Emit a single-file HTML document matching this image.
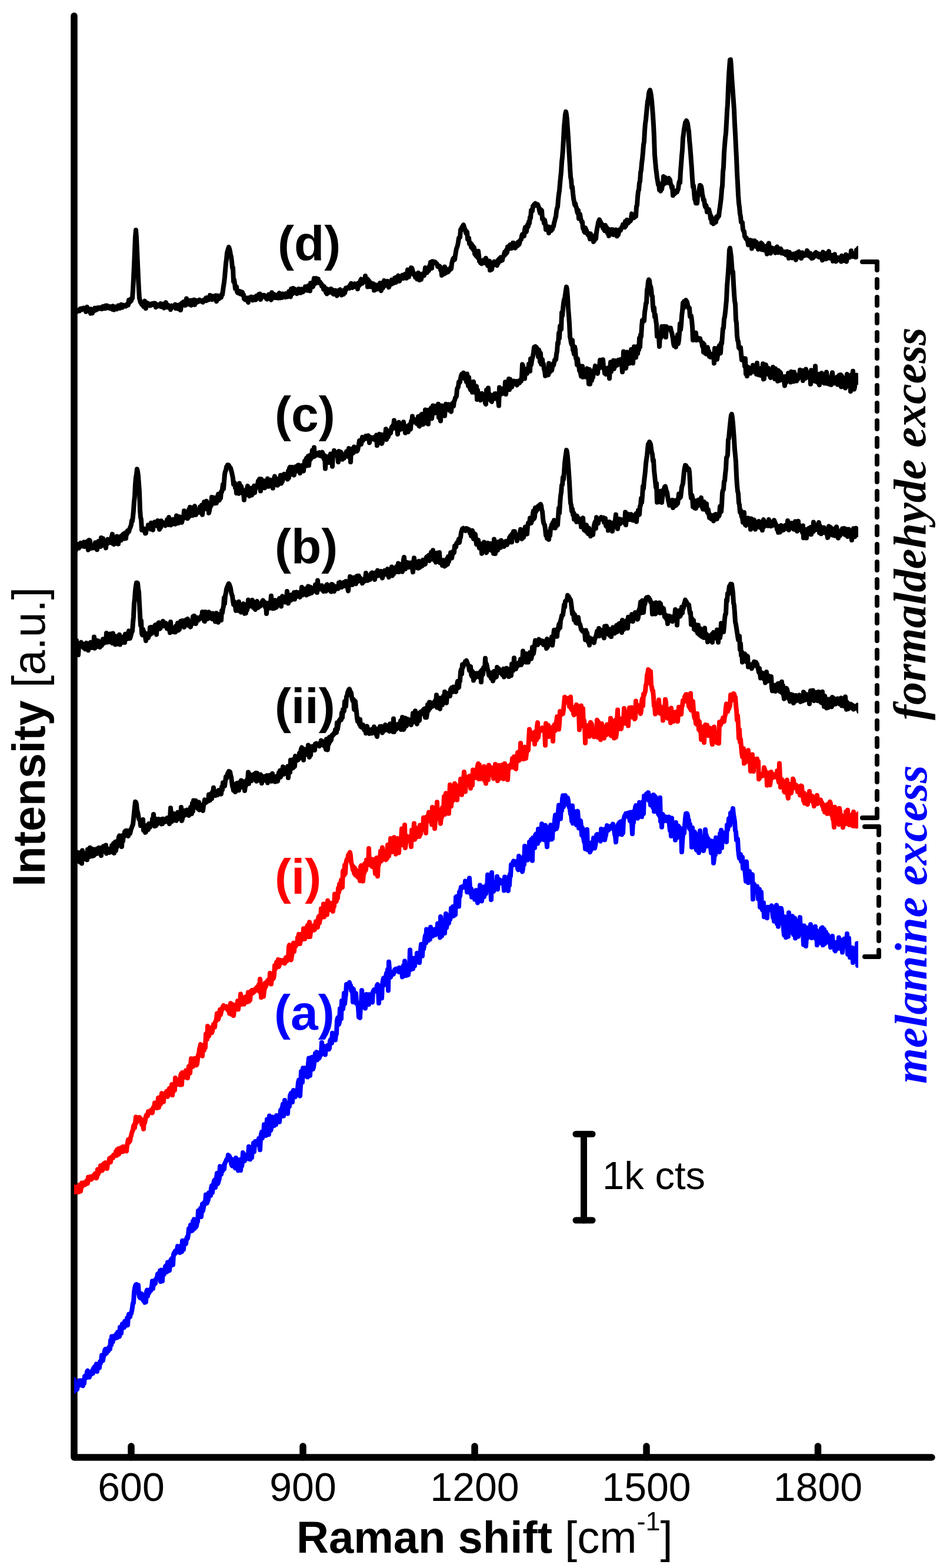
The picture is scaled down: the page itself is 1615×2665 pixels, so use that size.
<!DOCTYPE html>
<html><head><meta charset="utf-8"><style>html,body{margin:0;padding:0;background:#fff}svg{display:block}</style></head>
<body><svg xmlns="http://www.w3.org/2000/svg" width="1615" height="2665" viewBox="0 0 1615 2665">
<rect width="1615" height="2665" fill="#fff"/>
<defs><clipPath id="pa"><rect x="126" y="0" width="1333" height="2665"/></clipPath></defs>
<g fill="none" stroke="#000" stroke-width="11.5" stroke-linecap="round" stroke-linejoin="round">
<path d="M126 27 L126 2477 L1584 2477"/>
<path d="M223 2458 L223 2477"/><path d="M515 2458 L515 2477"/><path d="M807 2458 L807 2477"/><path d="M1099 2458 L1099 2477"/><path d="M1390.5 2458 L1390.5 2477"/>
</g>
<g clip-path="url(#pa)" fill="none" stroke-width="8" stroke-linecap="round" stroke-linejoin="round">
<path d="M124.0 529.8 125.0 530.8 126.0 529.7 127.0 526.1 128.0 530.9 129.0 529.7 130.0 527.4 131.0 529.7 132.0 529.0 133.0 528.6 134.0 527.7 135.0 528.4 136.0 525.0 137.0 525.7 138.0 524.4 139.0 526.5 140.0 525.1 141.0 524.4 142.0 523.6 143.0 525.1 144.0 526.1 145.0 525.9 146.0 529.8 147.0 529.6 148.0 521.7 149.0 523.8 150.0 527.6 151.0 527.1 152.0 528.4 153.0 528.4 154.0 532.6 155.0 525.4 156.0 527.0 157.0 532.2 158.0 529.1 159.0 529.0 160.0 526.4 161.0 523.7 162.0 527.5 163.0 527.0 164.0 523.7 165.0 524.5 166.0 525.4 167.0 523.0 168.0 524.4 169.0 524.5 170.0 524.1 171.0 522.6 172.0 524.8 173.0 525.2 174.0 523.6 175.0 520.9 176.0 524.1 177.0 521.2 178.0 524.1 179.0 519.7 180.0 524.0 181.0 522.0 182.0 519.5 183.0 521.7 184.0 522.8 185.0 523.6 186.0 521.1 187.0 521.1 188.0 524.2 189.0 522.9 190.0 524.5 191.0 525.7 192.0 520.2 193.0 524.4 194.0 526.5 195.0 523.0 196.0 521.7 197.0 525.1 198.0 523.9 199.0 525.2 200.0 522.2 201.0 519.5 202.0 522.4 203.0 521.3 204.0 523.8 205.0 522.2 206.0 517.7 207.0 518.3 208.0 522.7 209.0 521.9 210.0 518.5 211.0 519.7 212.0 520.3 213.0 520.0 214.0 520.5 215.0 518.6 216.0 517.2 217.0 516.2 218.0 518.6 219.0 510.0 220.0 514.0 221.0 513.3 222.0 508.7 223.0 511.3 224.0 506.8 225.0 506.9 226.0 492.9 227.0 472.6 228.0 451.2 229.0 426.8 230.0 402.3 231.0 391.1 232.0 403.9 233.0 426.5 234.0 449.3 235.0 471.5 236.0 491.9 237.0 506.9 238.0 510.5 239.0 514.3 240.0 514.3 241.0 517.6 242.0 514.3 243.0 518.7 244.0 521.0 245.0 513.9 246.0 511.7 247.0 519.4 248.0 524.1 249.0 515.5 250.0 514.9 251.0 519.4 252.0 515.9 253.0 516.8 254.0 517.1 255.0 519.3 256.0 517.0 257.0 518.7 258.0 517.6 259.0 515.9 260.0 517.2 261.0 515.7 262.0 518.1 263.0 515.4 264.0 515.6 265.0 522.1 266.0 518.4 267.0 518.6 268.0 520.1 269.0 517.9 270.0 518.4 271.0 520.1 272.0 519.8 273.0 516.2 274.0 521.3 275.0 517.7 276.0 516.5 277.0 517.0 278.0 518.3 279.0 523.5 280.0 516.4 281.0 519.9 282.0 514.1 283.0 519.8 284.0 522.2 285.0 519.5 286.0 518.7 287.0 521.1 288.0 522.5 289.0 522.6 290.0 526.1 291.0 521.7 292.0 519.7 293.0 521.1 294.0 521.3 295.0 521.9 296.0 521.7 297.0 522.3 298.0 517.6 299.0 524.2 300.0 520.5 301.0 518.8 302.0 523.4 303.0 524.9 304.0 522.3 305.0 520.9 306.0 517.5 307.0 527.0 308.0 521.3 309.0 515.4 310.0 515.9 311.0 517.8 312.0 513.0 313.0 517.1 314.0 514.9 315.0 519.0 316.0 517.8 317.0 507.6 318.0 514.6 319.0 509.9 320.0 517.0 321.0 514.3 322.0 515.2 323.0 510.7 324.0 518.4 325.0 518.8 326.0 510.4 327.0 514.2 328.0 511.3 329.0 513.0 330.0 509.6 331.0 518.1 332.0 510.3 333.0 512.1 334.0 514.3 335.0 511.1 336.0 512.2 337.0 511.3 338.0 512.4 339.0 509.5 340.0 511.5 341.0 512.0 342.0 511.5 343.0 512.4 344.0 511.1 345.0 513.7 346.0 510.4 347.0 510.6 348.0 508.8 349.0 508.8 350.0 506.5 351.0 511.1 352.0 506.1 353.0 506.8 354.0 509.5 355.0 509.3 356.0 506.7 357.0 501.8 358.0 508.4 359.0 507.8 360.0 503.0 361.0 509.2 362.0 505.0 363.0 503.8 364.0 507.3 365.0 506.5 366.0 507.6 367.0 502.4 368.0 512.2 369.0 505.3 370.0 502.5 371.0 508.6 372.0 505.7 373.0 507.4 374.0 505.3 375.0 505.8 376.0 505.6 377.0 500.3 378.0 501.0 379.0 493.6 380.0 486.4 381.0 480.2 382.0 471.1 383.0 459.4 384.0 448.0 385.0 440.6 386.0 429.9 387.0 426.1 388.0 422.7 389.0 420.0 390.0 422.8 391.0 427.0 392.0 433.1 393.0 436.5 394.0 444.6 395.0 455.2 396.0 454.7 397.0 478.4 398.0 475.1 399.0 481.6 400.0 490.6 401.0 490.3 402.0 487.0 403.0 495.7 404.0 497.6 405.0 494.7 406.0 495.9 407.0 498.8 408.0 495.1 409.0 499.7 410.0 499.6 411.0 497.8 412.0 496.7 413.0 501.5 414.0 500.8 415.0 507.8 416.0 506.4 417.0 509.4 418.0 508.3 419.0 509.3 420.0 506.3 421.0 510.7 422.0 513.9 423.0 507.3 424.0 506.1 425.0 507.1 426.0 505.7 427.0 504.7 428.0 506.9 429.0 505.3 430.0 510.4 431.0 505.8 432.0 506.6 433.0 508.4 434.0 504.4 435.0 509.6 436.0 503.0 437.0 502.4 438.0 503.6 439.0 504.4 440.0 500.3 441.0 504.6 442.0 499.5 443.0 509.1 444.0 504.6 445.0 502.8 446.0 502.1 447.0 503.7 448.0 504.3 449.0 501.7 450.0 502.1 451.0 504.4 452.0 503.3 453.0 507.9 454.0 508.5 455.0 505.0 456.0 506.4 457.0 500.6 458.0 506.8 459.0 504.6 460.0 506.2 461.0 509.7 462.0 497.3 463.0 505.4 464.0 501.0 465.0 506.3 466.0 500.1 467.0 502.7 468.0 504.8 469.0 506.1 470.0 504.2 471.0 501.4 472.0 502.1 473.0 506.6 474.0 503.7 475.0 498.1 476.0 506.2 477.0 504.7 478.0 506.1 479.0 502.0 480.0 505.7 481.0 499.4 482.0 504.5 483.0 500.8 484.0 504.3 485.0 505.1 486.0 499.1 487.0 501.0 488.0 500.9 489.0 504.3 490.0 502.3 491.0 495.5 492.0 500.4 493.0 500.6 494.0 504.3 495.0 491.0 496.0 494.0 497.0 499.5 498.0 490.0 499.0 490.2 500.0 495.7 501.0 497.4 502.0 491.8 503.0 495.8 504.0 494.4 505.0 499.1 506.0 494.0 507.0 497.3 508.0 491.0 509.0 493.4 510.0 493.7 511.0 497.8 512.0 495.9 513.0 491.3 514.0 496.1 515.0 496.2 516.0 493.1 517.0 492.4 518.0 492.5 519.0 487.2 520.0 493.3 521.0 493.2 522.0 488.9 523.0 493.7 524.0 485.8 525.0 487.7 526.0 487.0 527.0 494.5 528.0 481.3 529.0 487.8 530.0 488.2 531.0 485.4 532.0 487.2 533.0 478.6 534.0 473.0 535.0 482.4 536.0 474.7 537.0 476.8 538.0 473.1 539.0 480.4 540.0 479.6 541.0 474.3 542.0 480.6 543.0 478.9 544.0 479.3 545.0 481.4 546.0 482.0 547.0 486.4 548.0 486.8 549.0 485.8 550.0 491.5 551.0 486.8 552.0 490.8 553.0 492.3 554.0 496.9 555.0 490.8 556.0 499.5 557.0 494.7 558.0 493.9 559.0 492.5 560.0 497.1 561.0 495.2 562.0 491.1 563.0 491.0 564.0 493.0 565.0 492.6 566.0 498.9 567.0 499.9 568.0 498.1 569.0 496.3 570.0 493.5 571.0 495.2 572.0 498.2 573.0 502.6 574.0 498.3 575.0 494.0 576.0 495.1 577.0 493.3 578.0 492.2 579.0 494.3 580.0 495.7 581.0 501.5 582.0 494.8 583.0 499.1 584.0 500.0 585.0 493.3 586.0 498.2 587.0 494.3 588.0 489.6 589.0 491.5 590.0 490.1 591.0 488.7 592.0 488.4 593.0 489.3 594.0 489.9 595.0 484.8 596.0 487.6 597.0 481.8 598.0 487.8 599.0 488.7 600.0 486.6 601.0 486.6 602.0 487.2 603.0 482.2 604.0 483.2 605.0 485.4 606.0 486.6 607.0 483.9 608.0 491.1 609.0 481.2 610.0 484.6 611.0 485.0 612.0 479.5 613.0 476.4 614.0 474.5 615.0 478.8 616.0 481.7 617.0 478.2 618.0 477.5 619.0 475.3 620.0 478.6 621.0 469.1 622.0 478.0 623.0 477.9 624.0 473.7 625.0 487.4 626.0 475.6 627.0 477.7 628.0 478.2 629.0 487.3 630.0 480.8 631.0 487.0 632.0 487.3 633.0 486.8 634.0 481.8 635.0 484.9 636.0 493.6 637.0 483.4 638.0 485.4 639.0 488.0 640.0 491.6 641.0 489.5 642.0 491.1 643.0 484.3 644.0 491.1 645.0 489.3 646.0 481.1 647.0 491.8 648.0 494.0 649.0 482.6 650.0 485.2 651.0 489.7 652.0 479.1 653.0 477.0 654.0 479.2 655.0 481.5 656.0 481.2 657.0 485.2 658.0 483.6 659.0 477.9 660.0 484.0 661.0 488.3 662.0 485.4 663.0 484.2 664.0 480.2 665.0 483.1 666.0 475.6 667.0 481.2 668.0 477.7 669.0 481.5 670.0 478.7 671.0 472.6 672.0 476.6 673.0 480.0 674.0 471.2 675.0 472.8 676.0 471.7 677.0 468.6 678.0 477.0 679.0 477.8 680.0 475.5 681.0 473.0 682.0 471.4 683.0 471.9 684.0 467.8 685.0 473.0 686.0 473.0 687.0 472.0 688.0 466.2 689.0 467.8 690.0 466.4 691.0 472.8 692.0 466.4 693.0 458.4 694.0 465.9 695.0 470.6 696.0 465.7 697.0 465.9 698.0 462.5 699.0 455.1 700.0 455.5 701.0 457.8 702.0 462.4 703.0 465.0 704.0 467.5 705.0 465.1 706.0 471.1 707.0 467.9 708.0 467.5 709.0 474.1 710.0 469.0 711.0 463.8 712.0 470.9 713.0 476.0 714.0 465.7 715.0 475.3 716.0 474.8 717.0 469.2 718.0 466.7 719.0 467.6 720.0 464.5 721.0 468.4 722.0 463.3 723.0 454.9 724.0 456.1 725.0 460.3 726.0 463.4 727.0 456.8 728.0 455.5 729.0 460.0 730.0 452.4 731.0 450.5 732.0 445.7 733.0 448.0 734.0 456.0 735.0 444.3 736.0 447.4 737.0 444.6 738.0 446.3 739.0 446.7 740.0 445.6 741.0 446.7 742.0 447.6 743.0 448.8 744.0 453.2 745.0 453.4 746.0 452.0 747.0 452.2 748.0 453.1 749.0 458.9 750.0 456.7 751.0 468.0 752.0 465.3 753.0 458.4 754.0 458.3 755.0 465.8 756.0 453.4 757.0 458.7 758.0 463.8 759.0 457.3 760.0 458.9 761.0 459.2 762.0 462.2 763.0 459.4 764.0 459.2 765.0 458.5 766.0 454.8 767.0 456.9 768.0 448.4 769.0 443.9 770.0 440.7 771.0 438.8 772.0 439.4 773.0 441.3 774.0 434.4 775.0 427.9 776.0 422.4 777.0 420.3 778.0 416.7 779.0 411.9 780.0 404.6 781.0 403.4 782.0 403.2 783.0 390.5 784.0 391.6 785.0 386.4 786.0 386.2 787.0 383.6 788.0 382.3 789.0 385.6 790.0 389.8 791.0 390.2 792.0 395.9 793.0 397.1 794.0 394.0 795.0 406.7 796.0 406.0 797.0 404.4 798.0 414.3 799.0 414.3 800.0 413.1 801.0 419.8 802.0 415.2 803.0 422.2 804.0 418.1 805.0 424.9 806.0 420.7 807.0 431.4 808.0 428.6 809.0 434.4 810.0 428.1 811.0 431.1 812.0 437.6 813.0 426.8 814.0 434.5 815.0 443.7 816.0 443.3 817.0 446.8 818.0 443.7 819.0 448.1 820.0 444.4 821.0 442.7 822.0 442.0 823.0 446.5 824.0 446.8 825.0 446.8 826.0 438.7 827.0 442.6 828.0 448.1 829.0 451.4 830.0 448.8 831.0 448.2 832.0 443.6 833.0 459.3 834.0 448.5 835.0 458.5 836.0 457.8 837.0 452.7 838.0 448.8 839.0 450.3 840.0 444.7 841.0 448.8 842.0 447.0 843.0 448.2 844.0 449.1 845.0 451.2 846.0 443.1 847.0 447.6 848.0 440.5 849.0 439.4 850.0 439.6 851.0 437.4 852.0 443.4 853.0 442.1 854.0 442.1 855.0 436.3 856.0 436.1 857.0 431.8 858.0 428.4 859.0 432.8 860.0 430.9 861.0 424.8 862.0 429.3 863.0 419.5 864.0 423.4 865.0 420.3 866.0 419.2 867.0 416.0 868.0 422.1 869.0 420.0 870.0 421.9 871.0 418.0 872.0 412.9 873.0 416.1 874.0 413.2 875.0 418.9 876.0 421.5 877.0 418.4 878.0 415.0 879.0 415.8 880.0 417.7 881.0 411.3 882.0 415.8 883.0 414.2 884.0 409.5 885.0 407.5 886.0 407.0 887.0 400.9 888.0 398.3 889.0 401.7 890.0 397.7 891.0 401.2 892.0 390.3 893.0 386.2 894.0 394.5 895.0 393.2 896.0 385.9 897.0 381.8 898.0 385.1 899.0 377.1 900.0 379.7 901.0 369.4 902.0 370.6 903.0 357.5 904.0 357.9 905.0 358.6 906.0 350.2 907.0 351.2 908.0 347.6 909.0 346.9 910.0 345.8 911.0 347.9 912.0 347.2 913.0 349.5 914.0 347.4 915.0 350.0 916.0 352.1 917.0 358.1 918.0 362.1 919.0 355.9 920.0 356.8 921.0 357.8 922.0 372.3 923.0 371.3 924.0 373.4 925.0 379.4 926.0 373.9 927.0 379.4 928.0 390.1 929.0 388.9 930.0 388.7 931.0 385.2 932.0 391.3 933.0 396.0 934.0 385.8 935.0 390.5 936.0 389.1 937.0 392.0 938.0 390.9 939.0 389.6 940.0 384.9 941.0 384.9 942.0 378.8 943.0 375.8 944.0 371.0 945.0 368.3 946.0 358.8 947.0 353.8 948.0 351.5 949.0 339.0 950.0 330.0 951.0 324.0 952.0 311.8 953.0 301.4 954.0 291.9 955.0 275.5 956.0 267.0 957.0 253.4 958.0 234.9 959.0 215.3 960.0 205.2 961.0 194.2 962.0 189.8 963.0 195.1 964.0 203.9 965.0 219.6 966.0 233.6 967.0 252.0 968.0 266.8 969.0 284.6 970.0 301.1 971.0 305.7 972.0 319.0 973.0 317.6 974.0 328.6 975.0 337.4 976.0 342.6 977.0 348.0 978.0 345.6 979.0 350.9 980.0 352.6 981.0 359.0 982.0 362.3 983.0 357.5 984.0 371.5 985.0 363.1 986.0 364.3 987.0 370.5 988.0 374.4 989.0 377.5 990.0 377.1 991.0 388.0 992.0 385.9 993.0 393.3 994.0 394.7 995.0 387.2 996.0 389.9 997.0 391.3 998.0 397.1 999.0 397.7 1000.0 399.6 1001.0 396.8 1002.0 402.0 1003.0 406.2 1004.0 397.3 1005.0 402.0 1006.0 404.2 1007.0 403.5 1008.0 403.7 1009.0 410.9 1010.0 409.4 1011.0 407.7 1012.0 399.9 1013.0 405.5 1014.0 395.2 1015.0 388.9 1016.0 384.3 1017.0 378.1 1018.0 375.8 1019.0 373.4 1020.0 375.8 1021.0 377.0 1022.0 383.2 1023.0 381.0 1024.0 381.3 1025.0 387.5 1026.0 383.3 1027.0 390.2 1028.0 392.2 1029.0 383.1 1030.0 389.9 1031.0 385.9 1032.0 392.2 1033.0 396.5 1034.0 389.3 1035.0 400.9 1036.0 393.8 1037.0 390.8 1038.0 394.5 1039.0 397.7 1040.0 390.1 1041.0 395.0 1042.0 390.2 1043.0 399.1 1044.0 395.5 1045.0 393.5 1046.0 398.5 1047.0 390.4 1048.0 393.6 1049.0 401.4 1050.0 394.3 1051.0 399.1 1052.0 394.5 1053.0 390.6 1054.0 391.3 1055.0 391.5 1056.0 388.7 1057.0 386.2 1058.0 385.2 1059.0 381.6 1060.0 386.1 1061.0 386.1 1062.0 386.3 1063.0 376.2 1064.0 384.1 1065.0 380.0 1066.0 373.8 1067.0 377.8 1068.0 379.1 1069.0 376.8 1070.0 376.4 1071.0 376.1 1072.0 375.1 1073.0 371.1 1074.0 363.4 1075.0 367.4 1076.0 370.6 1077.0 367.0 1078.0 370.0 1079.0 369.2 1080.0 365.1 1081.0 367.7 1082.0 350.9 1083.0 348.8 1084.0 334.7 1085.0 325.2 1086.0 322.5 1087.0 310.8 1088.0 308.3 1089.0 293.3 1090.0 289.1 1091.0 277.0 1092.0 269.6 1093.0 259.1 1094.0 245.9 1095.0 241.2 1096.0 222.3 1097.0 209.8 1098.0 203.2 1099.0 192.0 1100.0 181.3 1101.0 172.0 1102.0 168.3 1103.0 158.8 1104.0 155.1 1105.0 153.1 1106.0 157.2 1107.0 162.6 1108.0 171.6 1109.0 183.5 1110.0 196.4 1111.0 212.7 1112.0 233.0 1113.0 263.7 1114.0 274.2 1115.0 285.7 1116.0 293.4 1117.0 302.0 1118.0 307.8 1119.0 313.8 1120.0 311.5 1121.0 323.0 1122.0 323.1 1123.0 324.7 1124.0 322.3 1125.0 321.6 1126.0 315.2 1127.0 314.6 1128.0 300.0 1129.0 302.9 1130.0 311.9 1131.0 301.8 1132.0 305.3 1133.0 309.2 1134.0 304.2 1135.0 310.5 1136.0 303.8 1137.0 302.9 1138.0 305.8 1139.0 305.7 1140.0 313.0 1141.0 314.3 1142.0 319.2 1143.0 317.3 1144.0 332.3 1145.0 325.3 1146.0 327.0 1147.0 329.3 1148.0 326.6 1149.0 324.4 1150.0 325.4 1151.0 326.3 1152.0 323.0 1153.0 321.1 1154.0 312.6 1155.0 308.3 1156.0 310.7 1157.0 290.8 1158.0 278.6 1159.0 264.7 1160.0 254.9 1161.0 234.7 1162.0 227.5 1163.0 219.2 1164.0 214.4 1165.0 208.4 1166.0 209.3 1167.0 205.1 1168.0 207.2 1169.0 210.3 1170.0 217.2 1171.0 223.3 1172.0 237.9 1173.0 247.9 1174.0 260.1 1175.0 273.6 1176.0 287.6 1177.0 304.0 1178.0 317.4 1179.0 315.5 1180.0 327.2 1181.0 338.1 1182.0 340.7 1183.0 345.1 1184.0 339.4 1185.0 345.4 1186.0 334.1 1187.0 331.4 1188.0 325.7 1189.0 319.8 1190.0 315.0 1191.0 315.2 1192.0 316.9 1193.0 321.9 1194.0 330.7 1195.0 335.0 1196.0 340.3 1197.0 339.7 1198.0 347.7 1199.0 351.6 1200.0 348.6 1201.0 351.4 1202.0 360.3 1203.0 357.1 1204.0 357.1 1205.0 355.9 1206.0 359.7 1207.0 363.3 1208.0 371.5 1209.0 367.4 1210.0 378.3 1211.0 371.2 1212.0 375.0 1213.0 380.4 1214.0 377.2 1215.0 374.9 1216.0 376.6 1217.0 377.4 1218.0 368.4 1219.0 371.5 1220.0 369.7 1221.0 366.1 1222.0 367.2 1223.0 358.2 1224.0 351.8 1225.0 344.0 1226.0 336.1 1227.0 322.0 1228.0 315.7 1229.0 292.5 1230.0 283.9 1231.0 260.0 1232.0 246.8 1233.0 234.5 1234.0 226.7 1235.0 208.8 1236.0 189.4 1237.0 175.8 1238.0 149.6 1239.0 129.0 1240.0 114.4 1241.0 101.6 1242.0 101.4 1243.0 113.2 1244.0 130.4 1245.0 144.6 1246.0 158.2 1247.0 172.4 1248.0 186.7 1249.0 210.7 1250.0 227.8 1251.0 249.1 1252.0 268.2 1253.0 293.1 1254.0 311.3 1255.0 331.3 1256.0 344.9 1257.0 352.2 1258.0 362.9 1259.0 368.0 1260.0 377.7 1261.0 377.9 1262.0 378.1 1263.0 390.0 1264.0 392.3 1265.0 393.3 1266.0 401.9 1267.0 402.9 1268.0 405.4 1269.0 404.5 1270.0 407.9 1271.0 409.6 1272.0 416.2 1273.0 409.0 1274.0 412.4 1275.0 414.5 1276.0 408.1 1277.0 409.1 1278.0 422.4 1279.0 409.2 1280.0 417.5 1281.0 412.8 1282.0 413.2 1283.0 409.2 1284.0 413.0 1285.0 418.9 1286.0 411.6 1287.0 418.5 1288.0 417.7 1289.0 423.7 1290.0 415.4 1291.0 421.6 1292.0 420.7 1293.0 417.1 1294.0 412.8 1295.0 424.2 1296.0 414.9 1297.0 418.5 1298.0 423.7 1299.0 425.0 1300.0 418.8 1301.0 422.0 1302.0 421.6 1303.0 426.8 1304.0 431.6 1305.0 416.9 1306.0 426.4 1307.0 413.6 1308.0 423.5 1309.0 419.8 1310.0 430.5 1311.0 424.3 1312.0 421.3 1313.0 422.2 1314.0 422.0 1315.0 424.7 1316.0 423.6 1317.0 426.5 1318.0 429.6 1319.0 426.9 1320.0 420.5 1321.0 419.4 1322.0 422.7 1323.0 429.3 1324.0 425.0 1325.0 424.3 1326.0 427.5 1327.0 422.7 1328.0 424.2 1329.0 430.3 1330.0 428.0 1331.0 427.9 1332.0 430.9 1333.0 428.2 1334.0 428.1 1335.0 429.2 1336.0 433.1 1337.0 431.5 1338.0 427.5 1339.0 430.8 1340.0 434.4 1341.0 438.8 1342.0 428.7 1343.0 434.0 1344.0 432.1 1345.0 436.0 1346.0 434.8 1347.0 438.4 1348.0 435.2 1349.0 431.5 1350.0 431.6 1351.0 434.8 1352.0 434.7 1353.0 441.6 1354.0 439.1 1355.0 429.4 1356.0 434.6 1357.0 428.9 1358.0 427.8 1359.0 435.9 1360.0 435.3 1361.0 429.9 1362.0 439.0 1363.0 430.1 1364.0 429.4 1365.0 435.6 1366.0 434.0 1367.0 432.6 1368.0 432.8 1369.0 433.7 1370.0 432.3 1371.0 432.0 1372.0 426.0 1373.0 427.8 1374.0 434.3 1375.0 429.7 1376.0 433.9 1377.0 436.2 1378.0 430.8 1379.0 433.0 1380.0 439.1 1381.0 434.5 1382.0 438.5 1383.0 437.5 1384.0 434.9 1385.0 432.1 1386.0 429.7 1387.0 429.0 1388.0 434.5 1389.0 434.6 1390.0 432.5 1391.0 436.1 1392.0 431.3 1393.0 437.2 1394.0 433.7 1395.0 433.5 1396.0 433.7 1397.0 433.4 1398.0 442.3 1399.0 428.5 1400.0 434.6 1401.0 438.3 1402.0 436.6 1403.0 433.3 1404.0 440.3 1405.0 430.9 1406.0 430.2 1407.0 436.7 1408.0 430.0 1409.0 427.2 1410.0 438.6 1411.0 438.5 1412.0 438.8 1413.0 435.0 1414.0 437.7 1415.0 434.2 1416.0 443.8 1417.0 441.0 1418.0 441.1 1419.0 432.3 1420.0 441.9 1421.0 444.3 1422.0 443.4 1423.0 442.0 1424.0 439.3 1425.0 438.1 1426.0 441.2 1427.0 440.4 1428.0 439.8 1429.0 437.8 1430.0 444.5 1431.0 434.7 1432.0 438.4 1433.0 436.4 1434.0 441.7 1435.0 442.9 1436.0 442.2 1437.0 440.3 1438.0 432.8 1439.0 444.5 1440.0 438.9 1441.0 436.5 1442.0 436.7 1443.0 435.2 1444.0 437.5 1445.0 436.8 1446.0 434.1 1447.0 426.3 1448.0 434.6 1449.0 435.9 1450.0 435.8 1451.0 433.1 1452.0 434.8 1453.0 436.4 1454.0 430.9 1455.0 437.1 1456.0 425.1 1457.0 427.0 1458.0 427.8 1459.0 422.1 1460.0 426.6 1461.0 434.2" stroke="#000"/>
<path d="M124.0 930.9 125.0 927.6 126.0 928.1 127.0 918.6 128.0 937.3 129.0 933.9 130.0 927.0 131.0 931.6 132.0 929.0 133.0 925.0 134.0 931.6 135.0 925.6 136.0 925.3 137.0 922.9 138.0 928.3 139.0 925.6 140.0 928.3 141.0 922.9 142.0 926.0 143.0 921.3 144.0 929.0 145.0 925.9 146.0 926.5 147.0 926.8 148.0 920.5 149.0 928.7 150.0 934.6 151.0 918.2 152.0 918.0 153.0 919.3 154.0 930.2 155.0 927.3 156.0 931.8 157.0 930.4 158.0 928.3 159.0 928.7 160.0 926.7 161.0 931.3 162.0 922.2 163.0 925.0 164.0 927.7 165.0 934.2 166.0 922.2 167.0 920.2 168.0 922.0 169.0 928.3 170.0 922.4 171.0 928.9 172.0 914.1 173.0 927.2 174.0 926.6 175.0 915.3 176.0 922.1 177.0 926.7 178.0 921.4 179.0 925.4 180.0 931.4 181.0 921.8 182.0 919.1 183.0 916.7 184.0 923.0 185.0 919.0 186.0 918.9 187.0 919.0 188.0 922.2 189.0 914.3 190.0 912.1 191.0 907.8 192.0 924.0 193.0 918.8 194.0 925.1 195.0 918.0 196.0 914.6 197.0 919.8 198.0 917.1 199.0 911.6 200.0 912.9 201.0 924.6 202.0 917.8 203.0 917.7 204.0 914.1 205.0 911.7 206.0 918.3 207.0 913.2 208.0 909.7 209.0 911.8 210.0 907.6 211.0 911.8 212.0 915.3 213.0 905.7 214.0 915.1 215.0 904.8 216.0 907.6 217.0 902.1 218.0 903.8 219.0 903.7 220.0 900.0 221.0 897.1 222.0 895.2 223.0 891.8 224.0 885.0 225.0 885.7 226.0 878.3 227.0 867.1 228.0 852.3 229.0 843.6 230.0 823.4 231.0 811.4 232.0 805.9 233.0 797.2 234.0 801.5 235.0 808.7 236.0 822.6 237.0 835.9 238.0 866.9 239.0 879.4 240.0 883.0 241.0 900.7 242.0 900.8 243.0 900.2 244.0 898.3 245.0 902.7 246.0 902.7 247.0 906.5 248.0 906.3 249.0 898.8 250.0 898.3 251.0 897.2 252.0 892.2 253.0 894.3 254.0 895.2 255.0 897.5 256.0 899.2 257.0 888.7 258.0 894.2 259.0 889.4 260.0 900.7 261.0 891.2 262.0 893.8 263.0 887.4 264.0 888.0 265.0 892.6 266.0 890.1 267.0 893.5 268.0 884.9 269.0 895.0 270.0 888.0 271.0 899.7 272.0 890.6 273.0 896.7 274.0 885.3 275.0 893.3 276.0 887.1 277.0 888.7 278.0 890.7 279.0 888.9 280.0 891.3 281.0 893.3 282.0 892.7 283.0 889.2 284.0 883.3 285.0 885.6 286.0 888.2 287.0 879.3 288.0 892.1 289.0 887.4 290.0 887.2 291.0 892.4 292.0 890.9 293.0 888.6 294.0 882.9 295.0 888.5 296.0 888.4 297.0 882.5 298.0 890.9 299.0 888.1 300.0 876.6 301.0 885.6 302.0 878.9 303.0 889.3 304.0 887.4 305.0 878.3 306.0 878.8 307.0 882.7 308.0 880.6 309.0 888.0 310.0 883.6 311.0 878.1 312.0 881.1 313.0 868.3 314.0 878.0 315.0 879.5 316.0 873.8 317.0 870.5 318.0 875.6 319.0 881.3 320.0 872.6 321.0 866.1 322.0 877.7 323.0 862.1 324.0 872.8 325.0 867.6 326.0 874.5 327.0 866.1 328.0 876.0 329.0 871.1 330.0 861.5 331.0 860.2 332.0 867.7 333.0 875.0 334.0 869.3 335.0 868.7 336.0 866.9 337.0 871.1 338.0 868.9 339.0 868.0 340.0 861.5 341.0 871.2 342.0 871.5 343.0 858.4 344.0 874.7 345.0 866.7 346.0 860.5 347.0 853.3 348.0 864.9 349.0 863.9 350.0 858.0 351.0 851.8 352.0 865.2 353.0 856.6 354.0 856.7 355.0 872.0 356.0 868.1 357.0 862.0 358.0 854.7 359.0 859.5 360.0 844.9 361.0 855.7 362.0 851.0 363.0 847.9 364.0 845.8 365.0 855.4 366.0 852.7 367.0 852.4 368.0 855.0 369.0 846.1 370.0 843.4 371.0 839.9 372.0 845.9 373.0 850.1 374.0 844.4 375.0 846.8 376.0 835.8 377.0 836.3 378.0 831.3 379.0 823.3 380.0 830.9 381.0 819.2 382.0 805.9 383.0 801.2 384.0 799.5 385.0 793.6 386.0 794.4 387.0 790.2 388.0 790.5 389.0 790.7 390.0 793.6 391.0 794.4 392.0 795.5 393.0 799.3 394.0 802.9 395.0 807.8 396.0 812.6 397.0 823.0 398.0 822.8 399.0 820.9 400.0 829.1 401.0 825.0 402.0 838.2 403.0 835.6 404.0 827.0 405.0 838.0 406.0 838.8 407.0 821.6 408.0 831.7 409.0 833.3 410.0 826.3 411.0 830.8 412.0 831.5 413.0 839.0 414.0 838.0 415.0 849.7 416.0 834.5 417.0 842.2 418.0 836.7 419.0 837.5 420.0 830.1 421.0 826.1 422.0 831.6 423.0 839.2 424.0 843.1 425.0 837.8 426.0 837.0 427.0 829.8 428.0 841.6 429.0 840.2 430.0 830.0 431.0 831.6 432.0 825.8 433.0 837.3 434.0 830.8 435.0 827.1 436.0 828.6 437.0 827.7 438.0 822.5 439.0 817.4 440.0 816.7 441.0 814.1 442.0 825.4 443.0 834.5 444.0 814.2 445.0 823.7 446.0 825.1 447.0 817.9 448.0 824.1 449.0 817.3 450.0 829.3 451.0 819.9 452.0 823.5 453.0 826.6 454.0 820.8 455.0 813.6 456.0 820.2 457.0 826.8 458.0 822.1 459.0 823.4 460.0 816.0 461.0 822.0 462.0 824.6 463.0 820.4 464.0 829.7 465.0 818.0 466.0 813.1 467.0 809.6 468.0 823.8 469.0 817.0 470.0 822.3 471.0 819.0 472.0 824.8 473.0 822.5 474.0 813.4 475.0 816.5 476.0 820.5 477.0 807.7 478.0 821.7 479.0 820.0 480.0 818.3 481.0 811.6 482.0 813.8 483.0 805.7 484.0 811.4 485.0 807.4 486.0 810.5 487.0 806.7 488.0 810.3 489.0 814.5 490.0 800.5 491.0 811.9 492.0 795.5 493.0 793.9 494.0 804.3 495.0 804.3 496.0 806.0 497.0 794.0 498.0 801.9 499.0 802.2 500.0 807.6 501.0 799.4 502.0 802.1 503.0 793.1 504.0 796.7 505.0 794.6 506.0 800.3 507.0 790.4 508.0 790.7 509.0 797.9 510.0 804.2 511.0 796.1 512.0 795.3 513.0 791.3 514.0 798.6 515.0 794.9 516.0 800.6 517.0 791.9 518.0 783.8 519.0 784.7 520.0 781.3 521.0 778.6 522.0 791.4 523.0 787.7 524.0 775.2 525.0 791.0 526.0 781.5 527.0 774.0 528.0 780.7 529.0 777.4 530.0 772.6 531.0 765.2 532.0 775.5 533.0 776.2 534.0 760.6 535.0 775.5 536.0 774.6 537.0 771.1 538.0 772.0 539.0 771.2 540.0 770.3 541.0 771.1 542.0 773.9 543.0 769.1 544.0 774.0 545.0 774.7 546.0 771.1 547.0 773.2 548.0 768.6 549.0 772.5 550.0 778.2 551.0 780.6 552.0 774.1 553.0 796.5 554.0 776.2 555.0 780.1 556.0 778.0 557.0 776.8 558.0 786.3 559.0 775.8 560.0 785.9 561.0 784.5 562.0 771.6 563.0 783.3 564.0 773.4 565.0 792.7 566.0 774.6 567.0 771.4 568.0 765.8 569.0 769.3 570.0 773.4 571.0 771.0 572.0 769.7 573.0 772.8 574.0 775.6 575.0 785.2 576.0 766.9 577.0 773.6 578.0 771.3 579.0 768.0 580.0 769.4 581.0 771.5 582.0 780.8 583.0 775.1 584.0 772.7 585.0 778.8 586.0 776.2 587.0 772.6 588.0 775.4 589.0 767.5 590.0 775.2 591.0 773.5 592.0 767.6 593.0 762.1 594.0 777.6 595.0 768.6 596.0 785.2 597.0 763.1 598.0 771.5 599.0 763.3 600.0 766.8 601.0 769.7 602.0 759.4 603.0 762.9 604.0 763.8 605.0 762.9 606.0 765.0 607.0 766.8 608.0 764.7 609.0 760.2 610.0 755.2 611.0 749.0 612.0 749.8 613.0 749.4 614.0 755.1 615.0 747.7 616.0 743.0 617.0 748.8 618.0 744.2 619.0 744.0 620.0 744.4 621.0 745.4 622.0 741.1 623.0 742.6 624.0 745.2 625.0 743.3 626.0 740.4 627.0 741.5 628.0 752.4 629.0 742.6 630.0 747.2 631.0 746.7 632.0 744.0 633.0 745.4 634.0 744.0 635.0 743.8 636.0 743.1 637.0 747.3 638.0 743.9 639.0 743.0 640.0 739.5 641.0 757.2 642.0 751.0 643.0 745.9 644.0 742.7 645.0 737.8 646.0 749.1 647.0 749.2 648.0 738.7 649.0 754.1 650.0 751.1 651.0 739.6 652.0 741.1 653.0 740.7 654.0 743.0 655.0 739.8 656.0 729.2 657.0 747.1 658.0 738.7 659.0 743.4 660.0 742.4 661.0 732.5 662.0 735.1 663.0 736.7 664.0 736.1 665.0 729.5 666.0 725.9 667.0 729.2 668.0 723.3 669.0 724.2 670.0 714.5 671.0 727.2 672.0 719.9 673.0 722.6 674.0 725.7 675.0 728.0 676.0 737.9 677.0 727.6 678.0 717.8 679.0 727.6 680.0 723.4 681.0 729.9 682.0 723.4 683.0 723.5 684.0 725.0 685.0 724.5 686.0 717.2 687.0 724.4 688.0 728.5 689.0 735.8 690.0 725.9 691.0 724.7 692.0 729.8 693.0 728.5 694.0 734.0 695.0 726.6 696.0 721.7 697.0 729.1 698.0 729.4 699.0 716.0 700.0 719.3 701.0 707.4 702.0 715.3 703.0 711.8 704.0 715.8 705.0 713.9 706.0 715.8 707.0 716.0 708.0 719.6 709.0 717.8 710.0 712.7 711.0 708.0 712.0 723.5 713.0 724.4 714.0 712.5 715.0 718.4 716.0 704.9 717.0 704.0 718.0 711.3 719.0 721.3 720.0 704.6 721.0 705.0 722.0 719.3 723.0 696.4 724.0 711.4 725.0 709.5 726.0 704.3 727.0 706.1 728.0 720.8 729.0 696.7 730.0 701.3 731.0 701.3 732.0 698.0 733.0 693.4 734.0 711.4 735.0 702.4 736.0 689.6 737.0 695.8 738.0 702.4 739.0 702.1 740.0 690.2 741.0 698.4 742.0 700.4 743.0 701.0 744.0 700.8 745.0 686.7 746.0 709.6 747.0 699.2 748.0 709.1 749.0 715.5 750.0 696.4 751.0 689.5 752.0 702.5 753.0 695.7 754.0 693.8 755.0 689.9 756.0 706.7 757.0 693.1 758.0 686.8 759.0 692.5 760.0 687.8 761.0 695.7 762.0 691.7 763.0 687.3 764.0 697.3 765.0 688.9 766.0 697.0 767.0 699.7 768.0 688.7 769.0 685.6 770.0 688.7 771.0 690.3 772.0 682.0 773.0 680.1 774.0 676.1 775.0 675.0 776.0 673.7 777.0 661.5 778.0 658.8 779.0 657.8 780.0 649.3 781.0 650.7 782.0 649.0 783.0 643.0 784.0 638.4 785.0 635.9 786.0 638.1 787.0 636.4 788.0 633.7 789.0 634.6 790.0 642.9 791.0 644.7 792.0 640.6 793.0 649.1 794.0 635.5 795.0 648.1 796.0 655.7 797.0 641.3 798.0 649.2 799.0 659.8 800.0 662.5 801.0 652.1 802.0 658.1 803.0 666.7 804.0 654.5 805.0 648.8 806.0 657.4 807.0 655.8 808.0 667.2 809.0 661.1 810.0 656.6 811.0 679.0 812.0 662.9 813.0 671.4 814.0 675.1 815.0 678.0 816.0 676.1 817.0 680.2 818.0 677.0 819.0 668.7 820.0 676.3 821.0 676.4 822.0 676.4 823.0 678.3 824.0 673.3 825.0 685.5 826.0 686.9 827.0 662.7 828.0 676.6 829.0 671.8 830.0 659.5 831.0 678.4 832.0 671.7 833.0 673.0 834.0 671.0 835.0 681.9 836.0 682.7 837.0 676.4 838.0 678.9 839.0 673.6 840.0 675.1 841.0 669.3 842.0 674.0 843.0 669.1 844.0 675.8 845.0 678.5 846.0 674.9 847.0 680.2 848.0 689.5 849.0 658.6 850.0 671.7 851.0 667.4 852.0 667.4 853.0 660.9 854.0 669.1 855.0 666.3 856.0 663.0 857.0 664.4 858.0 661.3 859.0 649.2 860.0 670.0 861.0 660.3 862.0 655.3 863.0 662.3 864.0 654.9 865.0 644.0 866.0 662.2 867.0 644.5 868.0 652.5 869.0 653.3 870.0 657.9 871.0 654.8 872.0 649.9 873.0 647.6 874.0 647.7 875.0 649.9 876.0 651.3 877.0 650.1 878.0 648.3 879.0 654.6 880.0 649.2 881.0 648.1 882.0 647.4 883.0 651.0 884.0 646.6 885.0 648.5 886.0 647.7 887.0 640.0 888.0 619.3 889.0 621.4 890.0 632.0 891.0 629.8 892.0 643.4 893.0 628.9 894.0 627.7 895.0 634.3 896.0 634.7 897.0 625.9 898.0 629.8 899.0 618.7 900.0 618.9 901.0 630.7 902.0 609.8 903.0 619.9 904.0 613.1 905.0 608.7 906.0 604.7 907.0 598.8 908.0 590.2 909.0 589.4 910.0 589.0 911.0 592.1 912.0 590.5 913.0 592.8 914.0 596.0 915.0 606.4 916.0 594.5 917.0 598.1 918.0 614.8 919.0 600.6 920.0 619.1 921.0 616.2 922.0 611.0 923.0 620.4 924.0 618.5 925.0 627.7 926.0 630.4 927.0 638.9 928.0 630.1 929.0 631.4 930.0 627.3 931.0 630.7 932.0 637.2 933.0 617.4 934.0 633.3 935.0 624.6 936.0 627.3 937.0 627.6 938.0 629.6 939.0 624.1 940.0 618.5 941.0 621.0 942.0 616.5 943.0 611.9 944.0 610.8 945.0 611.0 946.0 601.7 947.0 597.0 948.0 582.7 949.0 584.3 950.0 565.9 951.0 574.7 952.0 554.3 953.0 558.0 954.0 560.0 955.0 531.3 956.0 536.7 957.0 525.3 958.0 515.1 959.0 509.3 960.0 507.3 961.0 500.7 962.0 493.0 963.0 487.6 964.0 492.8 965.0 505.3 966.0 524.0 967.0 536.4 968.0 550.7 969.0 572.5 970.0 576.9 971.0 583.0 972.0 585.9 973.0 578.2 974.0 594.9 975.0 596.3 976.0 601.7 977.0 589.6 978.0 594.3 979.0 608.7 980.0 608.6 981.0 619.8 982.0 610.0 983.0 621.5 984.0 620.0 985.0 629.9 986.0 627.1 987.0 635.0 988.0 639.5 989.0 637.8 990.0 622.5 991.0 641.1 992.0 638.5 993.0 629.4 994.0 630.8 995.0 636.9 996.0 640.7 997.0 634.1 998.0 626.4 999.0 638.7 1000.0 637.9 1001.0 652.6 1002.0 628.1 1003.0 652.8 1004.0 647.5 1005.0 637.9 1006.0 646.5 1007.0 636.1 1008.0 641.5 1009.0 630.1 1010.0 634.8 1011.0 626.7 1012.0 621.9 1013.0 629.1 1014.0 625.1 1015.0 631.7 1016.0 634.9 1017.0 624.3 1018.0 624.7 1019.0 624.8 1020.0 612.1 1021.0 624.8 1022.0 623.2 1023.0 623.1 1024.0 616.6 1025.0 611.3 1026.0 623.0 1027.0 627.2 1028.0 634.4 1029.0 633.5 1030.0 636.0 1031.0 629.2 1032.0 634.5 1033.0 625.6 1034.0 630.9 1035.0 632.4 1036.0 643.2 1037.0 626.4 1038.0 615.5 1039.0 631.8 1040.0 616.6 1041.0 620.3 1042.0 617.8 1043.0 612.8 1044.0 626.8 1045.0 621.4 1046.0 613.1 1047.0 617.5 1048.0 614.2 1049.0 621.0 1050.0 614.5 1051.0 612.0 1052.0 612.8 1053.0 614.1 1054.0 618.9 1055.0 611.0 1056.0 616.4 1057.0 619.9 1058.0 632.3 1059.0 622.6 1060.0 597.4 1061.0 613.6 1062.0 614.2 1063.0 618.4 1064.0 625.9 1065.0 619.6 1066.0 598.5 1067.0 614.5 1068.0 612.0 1069.0 612.7 1070.0 617.6 1071.0 600.2 1072.0 613.4 1073.0 594.1 1074.0 604.3 1075.0 605.5 1076.0 617.2 1077.0 596.7 1078.0 589.2 1079.0 604.0 1080.0 594.1 1081.0 607.6 1082.0 591.4 1083.0 588.8 1084.0 601.1 1085.0 591.6 1086.0 594.7 1087.0 574.5 1088.0 589.5 1089.0 568.9 1090.0 572.1 1091.0 554.1 1092.0 544.6 1093.0 546.9 1094.0 543.2 1095.0 545.6 1096.0 530.4 1097.0 524.9 1098.0 515.5 1099.0 514.8 1100.0 492.8 1101.0 488.6 1102.0 478.3 1103.0 475.4 1104.0 476.7 1105.0 485.5 1106.0 486.5 1107.0 491.4 1108.0 502.6 1109.0 503.5 1110.0 521.2 1111.0 528.4 1112.0 522.9 1113.0 538.6 1114.0 534.6 1115.0 544.4 1116.0 551.5 1117.0 571.7 1118.0 567.2 1119.0 568.2 1120.0 573.1 1121.0 588.9 1122.0 569.1 1123.0 574.9 1124.0 572.3 1125.0 555.0 1126.0 564.5 1127.0 570.9 1128.0 563.4 1129.0 554.7 1130.0 564.9 1131.0 563.4 1132.0 573.1 1133.0 554.9 1134.0 557.3 1135.0 559.2 1136.0 558.5 1137.0 558.9 1138.0 558.5 1139.0 557.5 1140.0 557.5 1141.0 563.0 1142.0 565.2 1143.0 570.1 1144.0 575.8 1145.0 584.1 1146.0 587.7 1147.0 576.1 1148.0 585.8 1149.0 589.7 1150.0 584.5 1151.0 574.0 1152.0 568.9 1153.0 584.0 1154.0 578.4 1155.0 566.7 1156.0 550.3 1157.0 560.2 1158.0 552.0 1159.0 536.4 1160.0 528.7 1161.0 515.1 1162.0 523.6 1163.0 512.2 1164.0 514.4 1165.0 512.1 1166.0 510.1 1167.0 513.6 1168.0 513.0 1169.0 518.4 1170.0 523.0 1171.0 524.1 1172.0 523.4 1173.0 537.6 1174.0 536.2 1175.0 536.9 1176.0 544.3 1177.0 554.9 1178.0 578.1 1179.0 571.2 1180.0 574.1 1181.0 570.0 1182.0 569.0 1183.0 565.5 1184.0 578.3 1185.0 577.3 1186.0 574.4 1187.0 574.8 1188.0 576.7 1189.0 576.4 1190.0 575.4 1191.0 579.2 1192.0 580.6 1193.0 582.0 1194.0 588.4 1195.0 583.0 1196.0 598.6 1197.0 585.3 1198.0 597.9 1199.0 600.8 1200.0 596.5 1201.0 601.8 1202.0 591.5 1203.0 590.5 1204.0 599.7 1205.0 596.7 1206.0 605.9 1207.0 602.6 1208.0 606.9 1209.0 605.2 1210.0 604.7 1211.0 604.1 1212.0 601.2 1213.0 600.6 1214.0 617.4 1215.0 591.9 1216.0 602.1 1217.0 609.6 1218.0 605.0 1219.0 610.8 1220.0 604.1 1221.0 590.9 1222.0 595.9 1223.0 587.2 1224.0 600.6 1225.0 600.0 1226.0 582.8 1227.0 584.1 1228.0 571.6 1229.0 558.1 1230.0 557.7 1231.0 542.3 1232.0 538.4 1233.0 530.6 1234.0 520.1 1235.0 509.7 1236.0 486.1 1237.0 474.5 1238.0 461.1 1239.0 445.5 1240.0 424.8 1241.0 421.6 1242.0 429.0 1243.0 436.6 1244.0 450.6 1245.0 463.5 1246.0 461.9 1247.0 482.3 1248.0 498.6 1249.0 512.0 1250.0 516.6 1251.0 543.0 1252.0 549.0 1253.0 570.3 1254.0 578.4 1255.0 580.4 1256.0 590.9 1257.0 589.5 1258.0 593.1 1259.0 590.4 1260.0 602.2 1261.0 611.7 1262.0 609.4 1263.0 610.8 1264.0 608.9 1265.0 611.8 1266.0 622.5 1267.0 609.4 1268.0 635.3 1269.0 622.7 1270.0 639.3 1271.0 633.9 1272.0 624.2 1273.0 632.8 1274.0 630.1 1275.0 631.8 1276.0 634.4 1277.0 625.6 1278.0 625.3 1279.0 626.9 1280.0 620.7 1281.0 628.3 1282.0 631.8 1283.0 632.1 1284.0 631.8 1285.0 628.0 1286.0 636.1 1287.0 617.0 1288.0 628.3 1289.0 628.9 1290.0 637.3 1291.0 635.9 1292.0 636.9 1293.0 631.8 1294.0 638.3 1295.0 625.3 1296.0 632.8 1297.0 618.3 1298.0 644.5 1299.0 644.0 1300.0 629.5 1301.0 628.1 1302.0 620.0 1303.0 624.2 1304.0 635.8 1305.0 634.3 1306.0 625.7 1307.0 632.7 1308.0 632.0 1309.0 640.0 1310.0 642.0 1311.0 636.0 1312.0 638.6 1313.0 638.0 1314.0 624.1 1315.0 639.7 1316.0 638.2 1317.0 643.9 1318.0 626.5 1319.0 644.3 1320.0 634.9 1321.0 641.2 1322.0 647.7 1323.0 629.6 1324.0 630.9 1325.0 646.7 1326.0 632.2 1327.0 633.6 1328.0 644.3 1329.0 638.9 1330.0 645.7 1331.0 642.5 1332.0 640.3 1333.0 647.3 1334.0 655.5 1335.0 640.0 1336.0 650.7 1337.0 648.4 1338.0 641.4 1339.0 643.8 1340.0 634.3 1341.0 636.5 1342.0 642.6 1343.0 640.3 1344.0 649.5 1345.0 631.8 1346.0 638.7 1347.0 636.3 1348.0 639.6 1349.0 648.6 1350.0 632.5 1351.0 646.5 1352.0 636.7 1353.0 638.5 1354.0 647.5 1355.0 638.8 1356.0 645.2 1357.0 641.5 1358.0 639.5 1359.0 638.2 1360.0 628.8 1361.0 635.4 1362.0 641.6 1363.0 641.7 1364.0 630.1 1365.0 646.9 1366.0 643.9 1367.0 631.0 1368.0 632.6 1369.0 643.0 1370.0 627.4 1371.0 634.2 1372.0 638.8 1373.0 638.2 1374.0 638.6 1375.0 641.6 1376.0 633.4 1377.0 635.5 1378.0 652.8 1379.0 629.3 1380.0 635.9 1381.0 639.8 1382.0 634.8 1383.0 647.6 1384.0 640.0 1385.0 644.9 1386.0 622.2 1387.0 648.3 1388.0 648.3 1389.0 635.6 1390.0 649.9 1391.0 643.1 1392.0 647.9 1393.0 654.2 1394.0 642.8 1395.0 635.4 1396.0 642.5 1397.0 634.1 1398.0 637.5 1399.0 637.9 1400.0 638.4 1401.0 651.3 1402.0 649.2 1403.0 637.5 1404.0 651.4 1405.0 632.4 1406.0 639.4 1407.0 643.0 1408.0 652.2 1409.0 649.1 1410.0 647.4 1411.0 653.2 1412.0 649.3 1413.0 653.9 1414.0 639.3 1415.0 633.3 1416.0 642.0 1417.0 650.7 1418.0 646.9 1419.0 651.3 1420.0 650.2 1421.0 649.1 1422.0 651.3 1423.0 641.1 1424.0 653.7 1425.0 639.7 1426.0 646.0 1427.0 637.4 1428.0 650.8 1429.0 637.0 1430.0 657.4 1431.0 639.0 1432.0 650.2 1433.0 647.7 1434.0 642.9 1435.0 657.6 1436.0 646.3 1437.0 659.4 1438.0 642.5 1439.0 644.1 1440.0 636.0 1441.0 653.3 1442.0 655.8 1443.0 651.0 1444.0 648.3 1445.0 643.1 1446.0 665.2 1447.0 654.1 1448.0 636.4 1449.0 646.7 1450.0 630.8 1451.0 659.1 1452.0 661.6 1453.0 657.9 1454.0 647.3 1455.0 643.3 1456.0 637.5 1457.0 650.3 1458.0 641.3 1459.0 643.4 1460.0 641.2 1461.0 643.5" stroke="#000"/>
<path d="M124.0 1109.2 125.0 1086.2 126.0 1101.1 127.0 1096.0 128.0 1096.5 129.0 1097.6 130.0 1088.4 131.0 1097.2 132.0 1093.9 133.0 1113.1 134.0 1099.0 135.0 1095.9 136.0 1096.1 137.0 1093.9 138.0 1091.7 139.0 1094.8 140.0 1098.9 141.0 1095.0 142.0 1100.8 143.0 1094.8 144.0 1095.7 145.0 1103.2 146.0 1098.1 147.0 1092.9 148.0 1094.5 149.0 1098.2 150.0 1105.3 151.0 1094.4 152.0 1094.6 153.0 1101.0 154.0 1091.7 155.0 1094.8 156.0 1100.8 157.0 1099.4 158.0 1097.1 159.0 1100.0 160.0 1082.6 161.0 1101.8 162.0 1091.7 163.0 1087.9 164.0 1097.3 165.0 1099.0 166.0 1092.8 167.0 1089.2 168.0 1094.2 169.0 1093.3 170.0 1100.0 171.0 1096.2 172.0 1093.0 173.0 1097.2 174.0 1090.2 175.0 1086.3 176.0 1093.4 177.0 1093.0 178.0 1088.6 179.0 1085.4 180.0 1090.1 181.0 1076.1 182.0 1091.7 183.0 1090.4 184.0 1079.5 185.0 1087.9 186.0 1082.6 187.0 1091.2 188.0 1077.2 189.0 1082.8 190.0 1090.9 191.0 1093.2 192.0 1076.6 193.0 1084.9 194.0 1089.0 195.0 1084.4 196.0 1095.4 197.0 1081.4 198.0 1089.2 199.0 1082.2 200.0 1094.4 201.0 1087.3 202.0 1085.5 203.0 1078.7 204.0 1095.6 205.0 1090.8 206.0 1090.6 207.0 1092.3 208.0 1088.2 209.0 1083.0 210.0 1081.9 211.0 1081.6 212.0 1092.1 213.0 1077.7 214.0 1081.6 215.0 1082.5 216.0 1084.6 217.0 1085.6 218.0 1075.7 219.0 1072.3 220.0 1080.0 221.0 1085.1 222.0 1081.9 223.0 1078.0 224.0 1073.6 225.0 1072.9 226.0 1058.7 227.0 1048.3 228.0 1026.8 229.0 1017.1 230.0 1003.5 231.0 995.8 232.0 990.4 233.0 990.4 234.0 991.2 235.0 1000.3 236.0 1006.3 237.0 1025.8 238.0 1045.0 239.0 1062.9 240.0 1054.9 241.0 1076.6 242.0 1079.2 243.0 1069.5 244.0 1072.7 245.0 1074.8 246.0 1079.5 247.0 1082.4 248.0 1089.0 249.0 1077.1 250.0 1081.2 251.0 1077.1 252.0 1084.1 253.0 1077.9 254.0 1080.0 255.0 1066.6 256.0 1070.0 257.0 1066.0 258.0 1076.8 259.0 1072.0 260.0 1066.8 261.0 1065.7 262.0 1070.0 263.0 1063.7 264.0 1062.1 265.0 1068.8 266.0 1078.4 267.0 1064.5 268.0 1062.6 269.0 1059.3 270.0 1058.2 271.0 1067.2 272.0 1068.6 273.0 1064.1 274.0 1065.5 275.0 1064.3 276.0 1064.2 277.0 1055.8 278.0 1061.0 279.0 1063.8 280.0 1059.3 281.0 1060.8 282.0 1059.2 283.0 1062.0 284.0 1068.3 285.0 1062.5 286.0 1064.3 287.0 1069.8 288.0 1069.5 289.0 1075.4 290.0 1057.0 291.0 1072.2 292.0 1065.9 293.0 1069.2 294.0 1072.8 295.0 1073.8 296.0 1073.2 297.0 1068.0 298.0 1074.4 299.0 1063.9 300.0 1063.4 301.0 1066.9 302.0 1059.0 303.0 1071.5 304.0 1064.8 305.0 1069.7 306.0 1058.1 307.0 1056.0 308.0 1058.7 309.0 1061.6 310.0 1055.0 311.0 1059.8 312.0 1057.8 313.0 1066.0 314.0 1054.6 315.0 1063.1 316.0 1054.7 317.0 1053.1 318.0 1054.3 319.0 1051.9 320.0 1058.6 321.0 1063.1 322.0 1058.7 323.0 1060.9 324.0 1065.7 325.0 1058.6 326.0 1058.0 327.0 1055.3 328.0 1048.2 329.0 1059.7 330.0 1046.7 331.0 1058.3 332.0 1054.6 333.0 1060.0 334.0 1053.7 335.0 1049.6 336.0 1055.1 337.0 1050.2 338.0 1051.8 339.0 1052.5 340.0 1051.3 341.0 1050.6 342.0 1047.1 343.0 1050.0 344.0 1039.9 345.0 1049.6 346.0 1044.1 347.0 1055.5 348.0 1056.1 349.0 1039.9 350.0 1050.2 351.0 1048.8 352.0 1044.1 353.0 1051.9 354.0 1046.9 355.0 1040.3 356.0 1047.7 357.0 1048.2 358.0 1049.4 359.0 1042.6 360.0 1051.7 361.0 1052.2 362.0 1042.6 363.0 1044.9 364.0 1047.6 365.0 1045.0 366.0 1056.4 367.0 1048.5 368.0 1042.1 369.0 1043.0 370.0 1046.3 371.0 1057.7 372.0 1044.9 373.0 1046.0 374.0 1047.4 375.0 1043.9 376.0 1054.1 377.0 1037.9 378.0 1041.7 379.0 1034.5 380.0 1030.8 381.0 1016.1 382.0 1026.0 383.0 1011.9 384.0 1008.1 385.0 1001.3 386.0 998.3 387.0 996.3 388.0 993.6 389.0 991.9 390.0 993.9 391.0 996.6 392.0 1000.0 393.0 1006.4 394.0 1010.5 395.0 1012.8 396.0 1021.4 397.0 1027.4 398.0 1024.3 399.0 1023.3 400.0 1030.4 401.0 1037.8 402.0 1028.4 403.0 1029.9 404.0 1030.3 405.0 1037.6 406.0 1022.7 407.0 1034.1 408.0 1038.6 409.0 1028.9 410.0 1040.6 411.0 1036.1 412.0 1030.8 413.0 1034.7 414.0 1026.1 415.0 1031.0 416.0 1042.8 417.0 1028.9 418.0 1042.2 419.0 1032.1 420.0 1036.9 421.0 1031.5 422.0 1019.5 423.0 1027.3 424.0 1030.5 425.0 1023.3 426.0 1022.0 427.0 1030.3 428.0 1025.2 429.0 1019.9 430.0 1025.0 431.0 1032.7 432.0 1026.0 433.0 1033.1 434.0 1036.0 435.0 1028.6 436.0 1022.8 437.0 1021.9 438.0 1028.3 439.0 1032.8 440.0 1029.7 441.0 1031.1 442.0 1026.2 443.0 1029.9 444.0 1026.0 445.0 1026.8 446.0 1021.9 447.0 1020.5 448.0 1026.0 449.0 1022.9 450.0 1023.6 451.0 1031.8 452.0 1027.9 453.0 1043.0 454.0 1033.0 455.0 1025.2 456.0 1032.3 457.0 1030.1 458.0 1024.8 459.0 1033.6 460.0 1024.0 461.0 1012.7 462.0 1031.4 463.0 1024.1 464.0 1034.3 465.0 1023.4 466.0 1020.4 467.0 1033.7 468.0 1020.3 469.0 1026.3 470.0 1032.0 471.0 1024.7 472.0 1023.0 473.0 1023.2 474.0 1026.1 475.0 1017.0 476.0 1023.3 477.0 1022.4 478.0 1030.6 479.0 1016.7 480.0 1013.4 481.0 1021.4 482.0 1015.7 483.0 1019.1 484.0 1018.4 485.0 1023.5 486.0 1014.4 487.0 1017.2 488.0 1004.9 489.0 1013.2 490.0 1025.4 491.0 1014.3 492.0 1014.2 493.0 1011.6 494.0 1020.6 495.0 1018.6 496.0 1011.0 497.0 1018.6 498.0 1014.4 499.0 1015.0 500.0 1007.0 501.0 1018.5 502.0 1011.6 503.0 1008.7 504.0 1006.5 505.0 1007.7 506.0 1013.0 507.0 1007.2 508.0 1013.9 509.0 1011.2 510.0 1014.9 511.0 1012.1 512.0 1007.5 513.0 998.1 514.0 1008.8 515.0 1011.0 516.0 1007.5 517.0 1009.1 518.0 1003.5 519.0 1003.6 520.0 1000.3 521.0 1011.4 522.0 1004.9 523.0 1001.2 524.0 996.5 525.0 1002.0 526.0 1009.5 527.0 1004.2 528.0 997.9 529.0 1008.1 530.0 1007.6 531.0 1004.9 532.0 1003.4 533.0 1004.7 534.0 1001.2 535.0 1001.9 536.0 993.7 537.0 1004.8 538.0 998.2 539.0 1007.0 540.0 986.6 541.0 1000.4 542.0 1001.8 543.0 995.3 544.0 999.5 545.0 1001.1 546.0 1000.5 547.0 995.2 548.0 997.4 549.0 1003.5 550.0 1005.0 551.0 999.4 552.0 999.5 553.0 1000.4 554.0 1004.8 555.0 994.5 556.0 993.4 557.0 1000.9 558.0 995.0 559.0 997.8 560.0 1001.4 561.0 1003.6 562.0 996.1 563.0 1005.6 564.0 992.9 565.0 1004.6 566.0 994.1 567.0 995.6 568.0 1005.0 569.0 999.3 570.0 996.7 571.0 997.5 572.0 1001.0 573.0 997.3 574.0 996.3 575.0 1000.5 576.0 990.6 577.0 990.8 578.0 989.8 579.0 997.7 580.0 996.5 581.0 997.9 582.0 991.3 583.0 990.7 584.0 995.8 585.0 989.5 586.0 995.7 587.0 995.1 588.0 988.0 589.0 991.1 590.0 990.9 591.0 1000.2 592.0 1004.4 593.0 991.0 594.0 991.6 595.0 980.0 596.0 992.3 597.0 990.9 598.0 985.2 599.0 994.0 600.0 981.8 601.0 988.0 602.0 989.2 603.0 981.7 604.0 991.7 605.0 992.2 606.0 979.5 607.0 979.0 608.0 988.6 609.0 985.0 610.0 978.8 611.0 982.9 612.0 983.5 613.0 982.9 614.0 987.4 615.0 984.8 616.0 991.3 617.0 989.0 618.0 985.1 619.0 986.7 620.0 987.6 621.0 984.1 622.0 974.0 623.0 983.9 624.0 979.5 625.0 986.7 626.0 978.5 627.0 980.2 628.0 978.7 629.0 985.0 630.0 977.1 631.0 974.5 632.0 977.2 633.0 973.3 634.0 976.2 635.0 975.4 636.0 976.8 637.0 985.0 638.0 973.4 639.0 975.6 640.0 974.4 641.0 978.8 642.0 969.5 643.0 971.9 644.0 975.2 645.0 978.1 646.0 975.2 647.0 972.9 648.0 971.0 649.0 977.9 650.0 982.5 651.0 976.7 652.0 975.9 653.0 977.0 654.0 969.8 655.0 972.7 656.0 972.7 657.0 975.2 658.0 973.3 659.0 967.1 660.0 978.5 661.0 981.1 662.0 971.0 663.0 974.0 664.0 973.0 665.0 975.2 666.0 963.4 667.0 978.5 668.0 967.6 669.0 975.9 670.0 969.5 671.0 966.7 672.0 967.5 673.0 972.3 674.0 963.1 675.0 965.1 676.0 964.1 677.0 957.5 678.0 972.2 679.0 968.2 680.0 964.7 681.0 970.2 682.0 959.1 683.0 963.2 684.0 971.8 685.0 967.7 686.0 951.2 687.0 947.0 688.0 956.6 689.0 966.9 690.0 958.9 691.0 959.9 692.0 963.8 693.0 956.0 694.0 961.3 695.0 964.0 696.0 962.2 697.0 961.6 698.0 956.5 699.0 962.0 700.0 957.2 701.0 965.9 702.0 972.3 703.0 955.6 704.0 948.3 705.0 957.1 706.0 961.2 707.0 964.6 708.0 964.8 709.0 955.3 710.0 955.3 711.0 965.7 712.0 953.8 713.0 964.8 714.0 958.2 715.0 963.1 716.0 962.5 717.0 962.3 718.0 961.9 719.0 951.8 720.0 957.4 721.0 954.9 722.0 955.3 723.0 958.9 724.0 950.3 725.0 947.0 726.0 946.1 727.0 947.4 728.0 952.3 729.0 943.8 730.0 953.2 731.0 948.2 732.0 945.1 733.0 938.9 734.0 946.4 735.0 948.2 736.0 935.3 737.0 950.0 738.0 952.0 739.0 945.1 740.0 945.7 741.0 955.5 742.0 949.8 743.0 939.8 744.0 945.6 745.0 946.6 746.0 948.4 747.0 939.0 748.0 956.6 749.0 951.1 750.0 956.4 751.0 955.7 752.0 961.0 753.0 955.0 754.0 952.2 755.0 958.6 756.0 962.5 757.0 953.1 758.0 961.0 759.0 954.5 760.0 949.5 761.0 959.0 762.0 946.1 763.0 954.3 764.0 945.5 765.0 949.1 766.0 939.3 767.0 940.1 768.0 948.6 769.0 942.8 770.0 940.6 771.0 936.4 772.0 939.1 773.0 927.7 774.0 927.0 775.0 929.7 776.0 923.9 777.0 922.2 778.0 922.9 779.0 920.0 780.0 916.3 781.0 922.3 782.0 915.3 783.0 913.2 784.0 904.9 785.0 901.9 786.0 898.8 787.0 900.7 788.0 897.7 789.0 899.3 790.0 901.0 791.0 902.1 792.0 901.8 793.0 898.2 794.0 900.6 795.0 899.0 796.0 901.1 797.0 899.9 798.0 901.4 799.0 906.2 800.0 904.0 801.0 910.8 802.0 903.3 803.0 901.6 804.0 911.5 805.0 915.7 806.0 906.7 807.0 912.8 808.0 908.0 809.0 917.1 810.0 925.0 811.0 921.6 812.0 920.6 813.0 917.7 814.0 928.2 815.0 931.7 816.0 931.9 817.0 931.3 818.0 924.4 819.0 940.7 820.0 931.9 821.0 931.7 822.0 936.3 823.0 921.4 824.0 932.2 825.0 931.8 826.0 934.4 827.0 939.4 828.0 934.9 829.0 923.1 830.0 930.8 831.0 933.6 832.0 933.3 833.0 925.9 834.0 924.0 835.0 935.3 836.0 934.2 837.0 932.2 838.0 923.2 839.0 940.8 840.0 916.4 841.0 929.0 842.0 941.1 843.0 929.0 844.0 930.5 845.0 922.7 846.0 935.2 847.0 921.1 848.0 928.6 849.0 927.6 850.0 921.1 851.0 930.7 852.0 918.5 853.0 921.9 854.0 924.9 855.0 922.6 856.0 926.8 857.0 928.7 858.0 922.0 859.0 920.3 860.0 920.0 861.0 920.3 862.0 925.8 863.0 919.8 864.0 922.2 865.0 918.7 866.0 913.7 867.0 921.4 868.0 910.5 869.0 914.8 870.0 921.5 871.0 907.2 872.0 911.8 873.0 903.3 874.0 908.5 875.0 903.3 876.0 909.1 877.0 908.2 878.0 911.7 879.0 919.2 880.0 912.5 881.0 914.3 882.0 910.4 883.0 909.0 884.0 905.4 885.0 899.7 886.0 908.7 887.0 916.0 888.0 909.2 889.0 903.1 890.0 913.5 891.0 901.8 892.0 899.8 893.0 895.5 894.0 895.5 895.0 897.7 896.0 907.8 897.0 894.8 898.0 889.0 899.0 889.5 900.0 889.8 901.0 880.4 902.0 888.0 903.0 889.0 904.0 885.0 905.0 884.3 906.0 872.3 907.0 868.1 908.0 881.5 909.0 878.5 910.0 863.0 911.0 870.1 912.0 867.1 913.0 866.9 914.0 863.3 915.0 859.8 916.0 859.6 917.0 858.6 918.0 857.9 919.0 857.0 920.0 859.3 921.0 866.7 922.0 869.4 923.0 881.2 924.0 888.4 925.0 890.8 926.0 892.4 927.0 899.6 928.0 909.8 929.0 903.7 930.0 914.9 931.0 914.7 932.0 911.9 933.0 916.9 934.0 903.7 935.0 910.1 936.0 897.8 937.0 896.0 938.0 891.8 939.0 897.3 940.0 888.1 941.0 891.7 942.0 884.2 943.0 894.5 944.0 897.4 945.0 887.7 946.0 893.6 947.0 886.2 948.0 892.3 949.0 877.8 950.0 863.4 951.0 872.2 952.0 855.9 953.0 843.0 954.0 837.3 955.0 824.6 956.0 824.2 957.0 811.3 958.0 814.9 959.0 802.9 960.0 787.3 961.0 778.9 962.0 771.9 963.0 765.0 964.0 768.6 965.0 777.8 966.0 790.0 967.0 804.1 968.0 820.1 969.0 839.4 970.0 855.2 971.0 858.5 972.0 868.5 973.0 864.8 974.0 874.8 975.0 871.0 976.0 882.6 977.0 874.5 978.0 877.4 979.0 883.4 980.0 887.0 981.0 877.1 982.0 882.2 983.0 886.1 984.0 886.9 985.0 881.8 986.0 887.2 987.0 886.0 988.0 895.6 989.0 892.3 990.0 883.6 991.0 880.3 992.0 893.7 993.0 900.8 994.0 896.8 995.0 901.9 996.0 895.9 997.0 892.4 998.0 904.7 999.0 902.6 1000.0 907.0 1001.0 897.4 1002.0 906.6 1003.0 903.2 1004.0 911.2 1005.0 903.9 1006.0 902.8 1007.0 901.2 1008.0 908.7 1009.0 899.6 1010.0 892.8 1011.0 888.8 1012.0 886.5 1013.0 898.1 1014.0 879.3 1015.0 882.7 1016.0 888.9 1017.0 889.4 1018.0 882.1 1019.0 883.6 1020.0 881.8 1021.0 880.8 1022.0 879.2 1023.0 881.2 1024.0 879.9 1025.0 883.3 1026.0 879.9 1027.0 887.7 1028.0 881.4 1029.0 881.2 1030.0 893.3 1031.0 887.7 1032.0 895.3 1033.0 887.5 1034.0 901.6 1035.0 893.1 1036.0 887.0 1037.0 893.8 1038.0 897.4 1039.0 888.5 1040.0 895.1 1041.0 902.9 1042.0 896.5 1043.0 891.6 1044.0 888.5 1045.0 894.3 1046.0 883.0 1047.0 874.6 1048.0 886.8 1049.0 884.3 1050.0 898.8 1051.0 889.9 1052.0 883.5 1053.0 882.1 1054.0 890.4 1055.0 882.8 1056.0 883.4 1057.0 885.2 1058.0 885.1 1059.0 884.1 1060.0 883.1 1061.0 888.3 1062.0 889.3 1063.0 870.6 1064.0 892.2 1065.0 878.6 1066.0 884.1 1067.0 873.5 1068.0 879.2 1069.0 878.8 1070.0 878.6 1071.0 883.0 1072.0 882.3 1073.0 874.1 1074.0 879.3 1075.0 884.2 1076.0 884.4 1077.0 879.3 1078.0 879.8 1079.0 880.6 1080.0 875.2 1081.0 873.2 1082.0 886.7 1083.0 874.3 1084.0 874.4 1085.0 867.2 1086.0 875.1 1087.0 874.5 1088.0 860.3 1089.0 859.3 1090.0 846.9 1091.0 853.9 1092.0 842.8 1093.0 826.6 1094.0 830.5 1095.0 817.7 1096.0 809.5 1097.0 800.8 1098.0 787.9 1099.0 780.2 1100.0 774.0 1101.0 763.0 1102.0 754.4 1103.0 754.2 1104.0 751.1 1105.0 752.5 1106.0 755.1 1107.0 762.5 1108.0 769.0 1109.0 771.8 1110.0 783.3 1111.0 781.8 1112.0 799.5 1113.0 808.5 1114.0 818.4 1115.0 828.3 1116.0 821.5 1117.0 853.7 1118.0 837.8 1119.0 847.0 1120.0 851.2 1121.0 852.7 1122.0 850.7 1123.0 834.8 1124.0 845.6 1125.0 854.1 1126.0 845.6 1127.0 840.1 1128.0 832.1 1129.0 830.9 1130.0 827.4 1131.0 826.8 1132.0 830.8 1133.0 835.1 1134.0 836.7 1135.0 843.8 1136.0 850.0 1137.0 853.9 1138.0 858.9 1139.0 853.4 1140.0 851.8 1141.0 857.3 1142.0 852.6 1143.0 849.8 1144.0 862.9 1145.0 854.9 1146.0 857.5 1147.0 860.1 1148.0 850.4 1149.0 859.2 1150.0 857.6 1151.0 854.0 1152.0 855.9 1153.0 848.9 1154.0 839.5 1155.0 846.9 1156.0 839.8 1157.0 844.9 1158.0 836.9 1159.0 828.1 1160.0 825.0 1161.0 821.6 1162.0 811.3 1163.0 801.2 1164.0 795.0 1165.0 790.9 1166.0 791.1 1167.0 793.3 1168.0 794.4 1169.0 798.4 1170.0 796.7 1171.0 796.9 1172.0 802.1 1173.0 818.9 1174.0 838.9 1175.0 846.4 1176.0 841.3 1177.0 844.5 1178.0 861.3 1179.0 860.6 1180.0 850.6 1181.0 863.4 1182.0 858.3 1183.0 864.0 1184.0 858.3 1185.0 860.7 1186.0 857.2 1187.0 849.9 1188.0 853.3 1189.0 850.6 1190.0 858.5 1191.0 848.6 1192.0 846.0 1193.0 858.7 1194.0 862.4 1195.0 865.5 1196.0 865.3 1197.0 853.1 1198.0 859.3 1199.0 861.9 1200.0 866.4 1201.0 856.3 1202.0 868.9 1203.0 871.6 1204.0 866.1 1205.0 873.0 1206.0 879.9 1207.0 874.8 1208.0 881.2 1209.0 881.9 1210.0 879.5 1211.0 880.0 1212.0 876.4 1213.0 885.4 1214.0 876.3 1215.0 875.0 1216.0 882.2 1217.0 874.0 1218.0 879.5 1219.0 882.0 1220.0 875.6 1221.0 874.5 1222.0 877.5 1223.0 875.0 1224.0 860.9 1225.0 859.8 1226.0 869.6 1227.0 858.3 1228.0 837.4 1229.0 833.1 1230.0 832.0 1231.0 818.4 1232.0 817.2 1233.0 805.3 1234.0 797.2 1235.0 777.6 1236.0 776.5 1237.0 773.1 1238.0 747.2 1239.0 745.0 1240.0 733.2 1241.0 723.1 1242.0 713.4 1243.0 705.9 1244.0 703.8 1245.0 710.1 1246.0 720.0 1247.0 732.8 1248.0 746.8 1249.0 763.7 1250.0 773.5 1251.0 785.3 1252.0 808.8 1253.0 824.7 1254.0 834.9 1255.0 838.5 1256.0 854.9 1257.0 857.8 1258.0 870.5 1259.0 866.8 1260.0 873.9 1261.0 878.7 1262.0 879.5 1263.0 887.7 1264.0 875.6 1265.0 870.9 1266.0 888.8 1267.0 892.1 1268.0 892.9 1269.0 887.3 1270.0 889.3 1271.0 887.6 1272.0 880.5 1273.0 885.0 1274.0 891.2 1275.0 885.9 1276.0 899.8 1277.0 881.5 1278.0 887.9 1279.0 896.5 1280.0 887.5 1281.0 884.9 1282.0 883.8 1283.0 887.4 1284.0 899.6 1285.0 893.6 1286.0 894.1 1287.0 888.5 1288.0 895.8 1289.0 891.7 1290.0 886.0 1291.0 888.5 1292.0 891.9 1293.0 897.0 1294.0 890.2 1295.0 893.1 1296.0 901.2 1297.0 885.7 1298.0 883.2 1299.0 895.2 1300.0 892.1 1301.0 889.1 1302.0 891.0 1303.0 887.7 1304.0 892.2 1305.0 887.6 1306.0 893.8 1307.0 883.1 1308.0 885.2 1309.0 890.5 1310.0 887.6 1311.0 894.3 1312.0 890.7 1313.0 888.4 1314.0 892.9 1315.0 889.3 1316.0 884.2 1317.0 886.9 1318.0 889.2 1319.0 891.4 1320.0 894.9 1321.0 899.7 1322.0 898.0 1323.0 905.0 1324.0 902.4 1325.0 894.6 1326.0 904.6 1327.0 902.1 1328.0 893.1 1329.0 897.2 1330.0 901.4 1331.0 896.7 1332.0 900.8 1333.0 897.3 1334.0 898.8 1335.0 893.1 1336.0 896.7 1337.0 892.5 1338.0 898.1 1339.0 885.0 1340.0 895.9 1341.0 900.8 1342.0 897.0 1343.0 893.6 1344.0 896.6 1345.0 889.0 1346.0 889.0 1347.0 891.6 1348.0 892.8 1349.0 899.1 1350.0 889.1 1351.0 899.8 1352.0 886.2 1353.0 891.0 1354.0 895.6 1355.0 902.7 1356.0 893.6 1357.0 885.8 1358.0 900.4 1359.0 898.6 1360.0 893.4 1361.0 894.1 1362.0 896.5 1363.0 901.3 1364.0 904.8 1365.0 893.4 1366.0 914.2 1367.0 901.6 1368.0 899.8 1369.0 905.5 1370.0 902.3 1371.0 914.4 1372.0 907.4 1373.0 899.1 1374.0 898.8 1375.0 897.9 1376.0 898.5 1377.0 903.8 1378.0 896.3 1379.0 908.3 1380.0 898.8 1381.0 898.1 1382.0 903.9 1383.0 887.6 1384.0 893.1 1385.0 901.3 1386.0 898.0 1387.0 897.7 1388.0 899.9 1389.0 894.4 1390.0 896.9 1391.0 890.5 1392.0 887.9 1393.0 905.5 1394.0 893.7 1395.0 895.3 1396.0 907.3 1397.0 905.9 1398.0 897.6 1399.0 898.0 1400.0 901.0 1401.0 896.6 1402.0 905.3 1403.0 903.4 1404.0 903.7 1405.0 907.4 1406.0 907.5 1407.0 913.9 1408.0 912.2 1409.0 894.5 1410.0 908.9 1411.0 897.8 1412.0 896.1 1413.0 907.8 1414.0 900.0 1415.0 902.2 1416.0 909.8 1417.0 900.3 1418.0 899.0 1419.0 905.7 1420.0 910.6 1421.0 906.8 1422.0 895.4 1423.0 900.3 1424.0 903.1 1425.0 914.5 1426.0 908.8 1427.0 908.6 1428.0 910.5 1429.0 902.2 1430.0 906.5 1431.0 906.6 1432.0 898.5 1433.0 903.8 1434.0 907.0 1435.0 898.0 1436.0 908.4 1437.0 908.1 1438.0 909.6 1439.0 899.6 1440.0 904.5 1441.0 911.9 1442.0 908.3 1443.0 899.6 1444.0 905.1 1445.0 911.7 1446.0 903.5 1447.0 906.0 1448.0 918.0 1449.0 903.7 1450.0 903.3 1451.0 898.4 1452.0 900.3 1453.0 912.2 1454.0 903.4 1455.0 897.7 1456.0 899.3 1457.0 904.6 1458.0 909.0 1459.0 900.9 1460.0 909.1 1461.0 902.5" stroke="#000"/>
<path d="M124.0 1454.6 125.0 1457.1 126.0 1466.7 127.0 1461.3 128.0 1449.2 129.0 1457.5 130.0 1454.1 131.0 1458.0 132.0 1448.7 133.0 1458.1 134.0 1457.9 135.0 1464.7 136.0 1458.0 137.0 1458.8 138.0 1448.2 139.0 1467.5 140.0 1445.6 141.0 1461.1 142.0 1453.4 143.0 1450.4 144.0 1451.3 145.0 1451.0 146.0 1456.2 147.0 1453.4 148.0 1461.4 149.0 1443.8 150.0 1453.0 151.0 1448.0 152.0 1456.3 153.0 1440.8 154.0 1449.6 155.0 1452.1 156.0 1442.8 157.0 1455.2 158.0 1450.6 159.0 1454.5 160.0 1453.9 161.0 1443.4 162.0 1443.9 163.0 1446.4 164.0 1450.9 165.0 1450.9 166.0 1442.2 167.0 1442.2 168.0 1440.8 169.0 1441.4 170.0 1442.8 171.0 1443.1 172.0 1454.2 173.0 1440.8 174.0 1441.9 175.0 1445.8 176.0 1438.4 177.0 1441.5 178.0 1443.5 179.0 1447.4 180.0 1436.6 181.0 1450.5 182.0 1441.6 183.0 1444.3 184.0 1447.8 185.0 1446.8 186.0 1448.9 187.0 1444.3 188.0 1443.2 189.0 1444.6 190.0 1437.3 191.0 1448.2 192.0 1437.0 193.0 1433.6 194.0 1449.9 195.0 1437.5 196.0 1431.0 197.0 1445.7 198.0 1433.3 199.0 1439.5 200.0 1428.7 201.0 1430.9 202.0 1422.5 203.0 1420.4 204.0 1424.3 205.0 1428.0 206.0 1431.6 207.0 1439.1 208.0 1420.1 209.0 1429.7 210.0 1420.2 211.0 1421.5 212.0 1413.5 213.0 1412.5 214.0 1415.0 215.0 1411.8 216.0 1416.8 217.0 1412.0 218.0 1421.0 219.0 1414.0 220.0 1412.9 221.0 1416.8 222.0 1412.6 223.0 1408.5 224.0 1406.6 225.0 1403.6 226.0 1401.4 227.0 1392.1 228.0 1381.7 229.0 1372.0 230.0 1362.8 231.0 1363.4 232.0 1366.7 233.0 1377.2 234.0 1380.1 235.0 1385.5 236.0 1391.9 237.0 1393.0 238.0 1394.0 239.0 1403.2 240.0 1399.1 241.0 1395.0 242.0 1403.2 243.0 1393.0 244.0 1411.2 245.0 1402.2 246.0 1403.4 247.0 1414.9 248.0 1414.1 249.0 1403.2 250.0 1405.5 251.0 1407.4 252.0 1410.0 253.0 1400.0 254.0 1400.8 255.0 1406.0 256.0 1400.5 257.0 1402.6 258.0 1401.4 259.0 1392.1 260.0 1393.3 261.0 1383.9 262.0 1396.1 263.0 1404.3 264.0 1391.4 265.0 1403.5 266.0 1402.2 267.0 1396.6 268.0 1396.7 269.0 1397.1 270.0 1392.1 271.0 1395.1 272.0 1396.2 273.0 1399.5 274.0 1400.4 275.0 1392.3 276.0 1400.3 277.0 1391.8 278.0 1394.8 279.0 1397.5 280.0 1395.2 281.0 1394.5 282.0 1396.2 283.0 1391.3 284.0 1390.2 285.0 1391.7 286.0 1397.0 287.0 1390.6 288.0 1400.2 289.0 1390.6 290.0 1373.3 291.0 1385.8 292.0 1396.3 293.0 1387.3 294.0 1384.9 295.0 1382.7 296.0 1394.1 297.0 1392.4 298.0 1390.7 299.0 1389.4 300.0 1394.7 301.0 1391.5 302.0 1380.8 303.0 1391.2 304.0 1388.1 305.0 1386.6 306.0 1391.2 307.0 1387.3 308.0 1371.9 309.0 1395.1 310.0 1392.1 311.0 1385.7 312.0 1383.8 313.0 1386.3 314.0 1377.8 315.0 1385.3 316.0 1381.7 317.0 1380.3 318.0 1376.5 319.0 1377.0 320.0 1385.5 321.0 1386.0 322.0 1380.9 323.0 1377.2 324.0 1372.0 325.0 1379.4 326.0 1383.1 327.0 1365.3 328.0 1378.9 329.0 1360.6 330.0 1369.2 331.0 1372.2 332.0 1362.4 333.0 1361.0 334.0 1369.5 335.0 1372.8 336.0 1365.5 337.0 1374.7 338.0 1363.5 339.0 1376.5 340.0 1367.9 341.0 1368.3 342.0 1370.2 343.0 1368.5 344.0 1376.3 345.0 1377.9 346.0 1369.1 347.0 1365.1 348.0 1359.4 349.0 1361.1 350.0 1364.2 351.0 1362.6 352.0 1361.6 353.0 1360.5 354.0 1361.6 355.0 1350.4 356.0 1350.6 357.0 1360.3 358.0 1357.4 359.0 1348.9 360.0 1357.4 361.0 1346.2 362.0 1347.6 363.0 1338.8 364.0 1352.1 365.0 1347.2 366.0 1352.3 367.0 1350.0 368.0 1346.3 369.0 1346.2 370.0 1351.1 371.0 1343.5 372.0 1342.9 373.0 1343.3 374.0 1346.3 375.0 1346.0 376.0 1349.7 377.0 1337.5 378.0 1342.4 379.0 1330.2 380.0 1334.5 381.0 1329.7 382.0 1335.9 383.0 1328.1 384.0 1320.4 385.0 1322.9 386.0 1319.1 387.0 1314.7 388.0 1313.1 389.0 1310.8 390.0 1314.8 391.0 1311.7 392.0 1317.0 393.0 1320.8 394.0 1327.7 395.0 1336.1 396.0 1338.6 397.0 1343.3 398.0 1333.6 399.0 1341.3 400.0 1345.9 401.0 1332.5 402.0 1341.4 403.0 1331.0 404.0 1337.1 405.0 1336.6 406.0 1343.3 407.0 1330.1 408.0 1334.3 409.0 1338.5 410.0 1326.6 411.0 1332.4 412.0 1327.6 413.0 1328.2 414.0 1335.0 415.0 1334.7 416.0 1343.9 417.0 1336.8 418.0 1335.4 419.0 1326.8 420.0 1325.0 421.0 1326.1 422.0 1312.4 423.0 1332.0 424.0 1318.9 425.0 1316.0 426.0 1318.6 427.0 1325.1 428.0 1326.9 429.0 1318.5 430.0 1322.8 431.0 1320.4 432.0 1315.7 433.0 1322.1 434.0 1321.6 435.0 1313.7 436.0 1327.8 437.0 1314.1 438.0 1323.8 439.0 1317.3 440.0 1318.7 441.0 1319.3 442.0 1326.7 443.0 1316.4 444.0 1322.0 445.0 1331.2 446.0 1319.4 447.0 1322.8 448.0 1326.5 449.0 1319.9 450.0 1325.5 451.0 1319.5 452.0 1326.7 453.0 1323.3 454.0 1318.1 455.0 1330.4 456.0 1322.5 457.0 1321.4 458.0 1317.9 459.0 1320.2 460.0 1321.9 461.0 1323.1 462.0 1327.8 463.0 1314.8 464.0 1319.6 465.0 1327.5 466.0 1321.8 467.0 1322.7 468.0 1328.6 469.0 1321.7 470.0 1321.9 471.0 1318.8 472.0 1327.7 473.0 1323.3 474.0 1313.3 475.0 1319.3 476.0 1309.7 477.0 1320.8 478.0 1317.9 479.0 1312.9 480.0 1311.0 481.0 1303.2 482.0 1316.1 483.0 1311.0 484.0 1309.6 485.0 1314.7 486.0 1307.1 487.0 1307.2 488.0 1306.3 489.0 1302.5 490.0 1322.0 491.0 1307.9 492.0 1306.6 493.0 1312.7 494.0 1291.7 495.0 1306.6 496.0 1305.9 497.0 1299.3 498.0 1305.2 499.0 1290.5 500.0 1299.7 501.0 1302.9 502.0 1285.1 503.0 1287.7 504.0 1293.0 505.0 1292.3 506.0 1287.5 507.0 1291.5 508.0 1289.5 509.0 1279.9 510.0 1285.3 511.0 1278.0 512.0 1272.9 513.0 1270.4 514.0 1287.9 515.0 1281.2 516.0 1291.7 517.0 1273.3 518.0 1278.8 519.0 1282.1 520.0 1279.3 521.0 1282.4 522.0 1280.2 523.0 1275.9 524.0 1266.5 525.0 1273.3 526.0 1286.9 527.0 1281.4 528.0 1283.9 529.0 1272.6 530.0 1273.5 531.0 1268.6 532.0 1273.9 533.0 1270.8 534.0 1271.4 535.0 1275.0 536.0 1264.4 537.0 1267.7 538.0 1263.6 539.0 1266.4 540.0 1264.2 541.0 1264.6 542.0 1264.9 543.0 1268.2 544.0 1264.4 545.0 1262.5 546.0 1258.6 547.0 1265.7 548.0 1259.7 549.0 1261.6 550.0 1264.1 551.0 1267.8 552.0 1260.5 553.0 1267.8 554.0 1273.6 555.0 1256.2 556.0 1270.8 557.0 1274.3 558.0 1259.1 559.0 1264.5 560.0 1252.9 561.0 1260.8 562.0 1256.0 563.0 1258.0 564.0 1250.2 565.0 1249.3 566.0 1249.9 567.0 1247.1 568.0 1246.1 569.0 1246.8 570.0 1240.3 571.0 1243.6 572.0 1245.0 573.0 1228.2 574.0 1239.3 575.0 1232.0 576.0 1227.6 577.0 1223.9 578.0 1223.9 579.0 1221.4 580.0 1223.7 581.0 1211.5 582.0 1219.7 583.0 1205.9 584.0 1209.8 585.0 1208.1 586.0 1192.2 587.0 1200.2 588.0 1200.3 589.0 1183.9 590.0 1182.9 591.0 1177.1 592.0 1174.5 593.0 1172.2 594.0 1171.3 595.0 1173.8 596.0 1176.1 597.0 1177.5 598.0 1185.8 599.0 1189.2 600.0 1192.0 601.0 1188.5 602.0 1205.8 603.0 1206.3 604.0 1192.0 605.0 1201.7 606.0 1209.2 607.0 1220.8 608.0 1226.1 609.0 1221.1 610.0 1226.4 611.0 1230.9 612.0 1222.6 613.0 1234.6 614.0 1231.8 615.0 1236.2 616.0 1236.6 617.0 1232.0 618.0 1234.1 619.0 1240.4 620.0 1241.3 621.0 1239.3 622.0 1246.3 623.0 1238.8 624.0 1234.3 625.0 1238.9 626.0 1239.8 627.0 1240.0 628.0 1246.9 629.0 1243.4 630.0 1246.3 631.0 1244.0 632.0 1239.8 633.0 1246.2 634.0 1239.3 635.0 1242.0 636.0 1235.2 637.0 1240.9 638.0 1238.4 639.0 1241.8 640.0 1249.2 641.0 1251.9 642.0 1244.4 643.0 1238.6 644.0 1242.9 645.0 1239.5 646.0 1234.9 647.0 1237.7 648.0 1236.7 649.0 1234.8 650.0 1245.4 651.0 1235.2 652.0 1235.4 653.0 1241.8 654.0 1234.4 655.0 1232.0 656.0 1233.5 657.0 1240.6 658.0 1240.1 659.0 1239.6 660.0 1235.6 661.0 1233.2 662.0 1242.8 663.0 1230.3 664.0 1236.7 665.0 1230.6 666.0 1235.3 667.0 1236.5 668.0 1243.6 669.0 1221.6 670.0 1243.8 671.0 1231.6 672.0 1237.6 673.0 1240.0 674.0 1231.4 675.0 1234.8 676.0 1237.6 677.0 1234.0 678.0 1230.3 679.0 1234.9 680.0 1234.1 681.0 1225.1 682.0 1239.9 683.0 1233.4 684.0 1218.9 685.0 1226.9 686.0 1240.0 687.0 1238.8 688.0 1231.4 689.0 1220.5 690.0 1227.6 691.0 1233.9 692.0 1229.7 693.0 1225.2 694.0 1222.4 695.0 1230.1 696.0 1224.0 697.0 1226.2 698.0 1226.5 699.0 1232.0 700.0 1223.7 701.0 1223.6 702.0 1212.3 703.0 1227.3 704.0 1225.7 705.0 1220.5 706.0 1208.2 707.0 1216.9 708.0 1220.0 709.0 1230.4 710.0 1222.0 711.0 1222.7 712.0 1222.4 713.0 1224.6 714.0 1210.9 715.0 1211.8 716.0 1209.3 717.0 1213.2 718.0 1211.8 719.0 1213.2 720.0 1206.1 721.0 1210.9 722.0 1204.6 723.0 1219.3 724.0 1204.1 725.0 1219.4 726.0 1213.5 727.0 1197.5 728.0 1208.3 729.0 1205.7 730.0 1193.5 731.0 1204.3 732.0 1199.9 733.0 1201.6 734.0 1194.6 735.0 1198.2 736.0 1200.2 737.0 1196.4 738.0 1193.6 739.0 1195.5 740.0 1190.6 741.0 1197.2 742.0 1181.2 743.0 1202.5 744.0 1194.4 745.0 1196.3 746.0 1197.9 747.0 1186.4 748.0 1204.9 749.0 1186.4 750.0 1194.5 751.0 1193.3 752.0 1198.2 753.0 1190.7 754.0 1182.7 755.0 1191.4 756.0 1175.8 757.0 1187.1 758.0 1184.8 759.0 1194.7 760.0 1183.8 761.0 1181.8 762.0 1179.1 763.0 1177.5 764.0 1177.9 765.0 1183.0 766.0 1171.6 767.0 1176.5 768.0 1168.7 769.0 1174.7 770.0 1175.7 771.0 1167.4 772.0 1170.2 773.0 1173.0 774.0 1175.7 775.0 1175.7 776.0 1168.9 777.0 1162.9 778.0 1158.0 779.0 1168.9 780.0 1168.2 781.0 1157.2 782.0 1157.7 783.0 1141.5 784.0 1137.9 785.0 1145.6 786.0 1129.6 787.0 1134.4 788.0 1130.9 789.0 1128.1 790.0 1128.6 791.0 1124.2 792.0 1124.4 793.0 1122.7 794.0 1125.6 795.0 1128.1 796.0 1130.7 797.0 1134.1 798.0 1139.5 799.0 1137.3 800.0 1132.9 801.0 1146.3 802.0 1149.0 803.0 1140.8 804.0 1142.8 805.0 1156.5 806.0 1152.5 807.0 1152.8 808.0 1150.6 809.0 1147.8 810.0 1144.3 811.0 1150.1 812.0 1145.9 813.0 1144.6 814.0 1146.9 815.0 1146.6 816.0 1151.8 817.0 1141.5 818.0 1159.2 819.0 1139.1 820.0 1140.6 821.0 1146.2 822.0 1134.8 823.0 1134.9 824.0 1136.1 825.0 1118.7 826.0 1131.1 827.0 1128.4 828.0 1132.7 829.0 1137.9 830.0 1140.3 831.0 1147.0 832.0 1148.9 833.0 1148.9 834.0 1145.2 835.0 1152.9 836.0 1143.4 837.0 1149.0 838.0 1157.4 839.0 1153.6 840.0 1141.1 841.0 1144.6 842.0 1151.6 843.0 1148.9 844.0 1150.3 845.0 1133.9 846.0 1135.8 847.0 1140.6 848.0 1136.4 849.0 1141.5 850.0 1141.8 851.0 1143.8 852.0 1141.5 853.0 1145.5 854.0 1146.9 855.0 1143.9 856.0 1136.7 857.0 1150.6 858.0 1145.1 859.0 1146.4 860.0 1145.2 861.0 1135.7 862.0 1147.5 863.0 1140.7 864.0 1137.2 865.0 1150.1 866.0 1140.7 867.0 1143.0 868.0 1145.3 869.0 1148.2 870.0 1128.6 871.0 1133.3 872.0 1139.9 873.0 1131.7 874.0 1118.2 875.0 1134.5 876.0 1134.3 877.0 1136.9 878.0 1133.3 879.0 1129.1 880.0 1132.1 881.0 1129.9 882.0 1126.4 883.0 1129.4 884.0 1128.8 885.0 1120.2 886.0 1130.1 887.0 1127.9 888.0 1126.6 889.0 1106.6 890.0 1121.4 891.0 1119.6 892.0 1114.4 893.0 1122.6 894.0 1111.1 895.0 1125.6 896.0 1120.7 897.0 1115.5 898.0 1125.6 899.0 1119.9 900.0 1118.6 901.0 1108.7 902.0 1117.0 903.0 1119.7 904.0 1115.6 905.0 1100.0 906.0 1112.0 907.0 1110.6 908.0 1104.3 909.0 1095.8 910.0 1088.5 911.0 1090.8 912.0 1091.7 913.0 1095.4 914.0 1095.9 915.0 1089.4 916.0 1086.6 917.0 1090.4 918.0 1089.1 919.0 1092.5 920.0 1088.9 921.0 1091.4 922.0 1092.3 923.0 1089.6 924.0 1095.8 925.0 1092.9 926.0 1090.4 927.0 1090.0 928.0 1096.4 929.0 1102.0 930.0 1086.1 931.0 1099.5 932.0 1094.8 933.0 1090.6 934.0 1093.0 935.0 1092.2 936.0 1090.4 937.0 1093.5 938.0 1082.6 939.0 1096.6 940.0 1089.2 941.0 1079.6 942.0 1070.7 943.0 1079.3 944.0 1075.4 945.0 1079.7 946.0 1077.5 947.0 1081.8 948.0 1068.5 949.0 1071.1 950.0 1062.1 951.0 1059.6 952.0 1067.0 953.0 1054.7 954.0 1051.4 955.0 1046.6 956.0 1046.7 957.0 1044.5 958.0 1037.1 959.0 1027.9 960.0 1032.1 961.0 1021.9 962.0 1021.1 963.0 1020.8 964.0 1018.4 965.0 1011.7 966.0 1016.3 967.0 1014.2 968.0 1016.2 969.0 1019.9 970.0 1019.5 971.0 1025.6 972.0 1034.2 973.0 1043.3 974.0 1040.4 975.0 1044.0 976.0 1053.6 977.0 1044.7 978.0 1052.3 979.0 1058.4 980.0 1052.4 981.0 1059.4 982.0 1055.8 983.0 1049.2 984.0 1056.5 985.0 1060.1 986.0 1061.3 987.0 1065.4 988.0 1069.5 989.0 1071.1 990.0 1072.6 991.0 1071.2 992.0 1074.1 993.0 1074.8 994.0 1075.2 995.0 1087.4 996.0 1071.2 997.0 1084.3 998.0 1075.6 999.0 1082.6 1000.0 1091.4 1001.0 1086.5 1002.0 1096.5 1003.0 1084.3 1004.0 1088.2 1005.0 1086.4 1006.0 1089.6 1007.0 1087.3 1008.0 1086.2 1009.0 1087.9 1010.0 1092.4 1011.0 1086.1 1012.0 1084.5 1013.0 1081.4 1014.0 1078.1 1015.0 1073.0 1016.0 1074.2 1017.0 1079.3 1018.0 1067.9 1019.0 1081.0 1020.0 1074.2 1021.0 1070.5 1022.0 1071.7 1023.0 1077.4 1024.0 1075.1 1025.0 1073.9 1026.0 1081.5 1027.0 1084.3 1028.0 1064.5 1029.0 1076.3 1030.0 1067.4 1031.0 1064.1 1032.0 1068.8 1033.0 1077.3 1034.0 1070.1 1035.0 1069.3 1036.0 1079.6 1037.0 1074.8 1038.0 1071.7 1039.0 1082.1 1040.0 1074.9 1041.0 1068.3 1042.0 1066.3 1043.0 1069.7 1044.0 1072.6 1045.0 1076.4 1046.0 1075.3 1047.0 1070.7 1048.0 1063.1 1049.0 1073.9 1050.0 1068.7 1051.0 1061.6 1052.0 1060.2 1053.0 1067.6 1054.0 1067.8 1055.0 1069.8 1056.0 1058.3 1057.0 1075.0 1058.0 1054.1 1059.0 1063.3 1060.0 1070.4 1061.0 1068.3 1062.0 1056.8 1063.0 1064.8 1064.0 1067.6 1065.0 1064.2 1066.0 1054.1 1067.0 1067.7 1068.0 1048.8 1069.0 1056.9 1070.0 1049.8 1071.0 1052.2 1072.0 1051.7 1073.0 1055.1 1074.0 1044.3 1075.0 1051.3 1076.0 1056.2 1077.0 1048.5 1078.0 1050.1 1079.0 1048.5 1080.0 1041.1 1081.0 1042.3 1082.0 1043.6 1083.0 1045.1 1084.0 1052.6 1085.0 1049.4 1086.0 1036.9 1087.0 1036.0 1088.0 1031.7 1089.0 1023.3 1090.0 1041.8 1091.0 1036.0 1092.0 1020.7 1093.0 1029.7 1094.0 1040.9 1095.0 1028.9 1096.0 1027.4 1097.0 1024.0 1098.0 1018.1 1099.0 1015.6 1100.0 1015.8 1101.0 1016.5 1102.0 1015.0 1103.0 1015.9 1104.0 1018.3 1105.0 1019.1 1106.0 1023.6 1107.0 1024.4 1108.0 1024.1 1109.0 1043.8 1110.0 1039.3 1111.0 1042.7 1112.0 1034.1 1113.0 1026.9 1114.0 1043.5 1115.0 1024.3 1116.0 1035.3 1117.0 1033.3 1118.0 1037.4 1119.0 1040.7 1120.0 1040.7 1121.0 1024.6 1122.0 1041.8 1123.0 1026.3 1124.0 1041.2 1125.0 1035.8 1126.0 1032.9 1127.0 1037.3 1128.0 1034.0 1129.0 1042.3 1130.0 1048.5 1131.0 1048.6 1132.0 1045.3 1133.0 1052.1 1134.0 1049.9 1135.0 1060.1 1136.0 1052.1 1137.0 1046.9 1138.0 1049.4 1139.0 1047.4 1140.0 1050.5 1141.0 1051.4 1142.0 1055.9 1143.0 1056.3 1144.0 1051.9 1145.0 1053.6 1146.0 1046.7 1147.0 1047.2 1148.0 1036.1 1149.0 1044.9 1150.0 1045.9 1151.0 1062.5 1152.0 1040.3 1153.0 1047.8 1154.0 1045.2 1155.0 1037.9 1156.0 1047.7 1157.0 1045.8 1158.0 1036.9 1159.0 1031.7 1160.0 1041.7 1161.0 1032.6 1162.0 1034.0 1163.0 1026.4 1164.0 1023.2 1165.0 1019.7 1166.0 1022.4 1167.0 1022.8 1168.0 1027.5 1169.0 1027.9 1170.0 1027.1 1171.0 1027.9 1172.0 1035.3 1173.0 1042.7 1174.0 1040.9 1175.0 1061.5 1176.0 1051.1 1177.0 1057.5 1178.0 1058.7 1179.0 1054.1 1180.0 1069.2 1181.0 1068.5 1182.0 1070.9 1183.0 1061.9 1184.0 1068.1 1185.0 1068.6 1186.0 1076.1 1187.0 1062.6 1188.0 1074.7 1189.0 1078.7 1190.0 1070.0 1191.0 1068.5 1192.0 1081.3 1193.0 1076.2 1194.0 1082.1 1195.0 1080.9 1196.0 1083.7 1197.0 1077.6 1198.0 1067.6 1199.0 1083.5 1200.0 1077.0 1201.0 1084.7 1202.0 1078.7 1203.0 1091.1 1204.0 1080.9 1205.0 1087.2 1206.0 1089.0 1207.0 1082.6 1208.0 1085.0 1209.0 1083.3 1210.0 1078.3 1211.0 1091.8 1212.0 1078.5 1213.0 1074.8 1214.0 1080.7 1215.0 1084.1 1216.0 1083.6 1217.0 1081.1 1218.0 1080.3 1219.0 1070.5 1220.0 1085.7 1221.0 1091.6 1222.0 1077.4 1223.0 1070.9 1224.0 1084.0 1225.0 1077.1 1226.0 1059.2 1227.0 1068.8 1228.0 1061.8 1229.0 1059.9 1230.0 1074.1 1231.0 1064.4 1232.0 1051.5 1233.0 1044.1 1234.0 1043.6 1235.0 1019.4 1236.0 1021.9 1237.0 1008.7 1238.0 1010.6 1239.0 1002.9 1240.0 996.1 1241.0 995.8 1242.0 992.7 1243.0 993.7 1244.0 993.0 1245.0 1000.4 1246.0 1008.1 1247.0 1024.7 1248.0 1028.5 1249.0 1041.5 1250.0 1057.2 1251.0 1061.1 1252.0 1067.6 1253.0 1074.4 1254.0 1080.5 1255.0 1087.3 1256.0 1086.6 1257.0 1081.3 1258.0 1104.0 1259.0 1094.0 1260.0 1113.7 1261.0 1107.9 1262.0 1125.4 1263.0 1118.7 1264.0 1117.0 1265.0 1122.2 1266.0 1111.3 1267.0 1122.2 1268.0 1120.9 1269.0 1124.7 1270.0 1114.7 1271.0 1115.5 1272.0 1133.6 1273.0 1131.1 1274.0 1129.4 1275.0 1132.2 1276.0 1129.4 1277.0 1130.2 1278.0 1136.3 1279.0 1130.4 1280.0 1133.2 1281.0 1127.3 1282.0 1124.7 1283.0 1126.6 1284.0 1126.8 1285.0 1125.4 1286.0 1127.3 1287.0 1128.6 1288.0 1134.4 1289.0 1137.6 1290.0 1142.4 1291.0 1135.9 1292.0 1144.7 1293.0 1152.4 1294.0 1147.7 1295.0 1147.1 1296.0 1143.5 1297.0 1152.9 1298.0 1149.3 1299.0 1154.1 1300.0 1147.7 1301.0 1160.4 1302.0 1148.7 1303.0 1142.0 1304.0 1150.4 1305.0 1152.3 1306.0 1157.4 1307.0 1148.8 1308.0 1150.6 1309.0 1154.7 1310.0 1156.8 1311.0 1149.9 1312.0 1168.8 1313.0 1174.3 1314.0 1164.7 1315.0 1164.6 1316.0 1169.6 1317.0 1165.8 1318.0 1174.9 1319.0 1166.9 1320.0 1173.9 1321.0 1163.4 1322.0 1162.4 1323.0 1161.6 1324.0 1162.4 1325.0 1172.9 1326.0 1175.3 1327.0 1171.4 1328.0 1172.0 1329.0 1158.7 1330.0 1178.1 1331.0 1165.3 1332.0 1180.5 1333.0 1187.6 1334.0 1175.0 1335.0 1179.0 1336.0 1179.8 1337.0 1169.7 1338.0 1171.8 1339.0 1175.7 1340.0 1182.0 1341.0 1187.6 1342.0 1185.0 1343.0 1192.1 1344.0 1184.3 1345.0 1180.2 1346.0 1189.1 1347.0 1188.9 1348.0 1181.1 1349.0 1194.9 1350.0 1183.5 1351.0 1184.6 1352.0 1189.7 1353.0 1182.0 1354.0 1191.3 1355.0 1189.6 1356.0 1189.6 1357.0 1186.6 1358.0 1183.5 1359.0 1181.5 1360.0 1187.2 1361.0 1192.8 1362.0 1189.1 1363.0 1186.4 1364.0 1189.6 1365.0 1191.2 1366.0 1176.3 1367.0 1183.0 1368.0 1190.0 1369.0 1179.3 1370.0 1180.2 1371.0 1186.2 1372.0 1181.3 1373.0 1189.2 1374.0 1180.5 1375.0 1185.5 1376.0 1196.2 1377.0 1188.4 1378.0 1174.1 1379.0 1175.8 1380.0 1175.9 1381.0 1181.2 1382.0 1173.5 1383.0 1184.5 1384.0 1191.0 1385.0 1190.0 1386.0 1176.9 1387.0 1179.5 1388.0 1179.4 1389.0 1176.5 1390.0 1190.9 1391.0 1177.8 1392.0 1175.9 1393.0 1184.9 1394.0 1185.6 1395.0 1193.2 1396.0 1194.2 1397.0 1185.5 1398.0 1175.7 1399.0 1192.4 1400.0 1194.2 1401.0 1200.8 1402.0 1182.7 1403.0 1185.9 1404.0 1202.1 1405.0 1203.2 1406.0 1201.9 1407.0 1194.9 1408.0 1202.6 1409.0 1192.3 1410.0 1188.3 1411.0 1195.0 1412.0 1195.8 1413.0 1199.7 1414.0 1201.2 1415.0 1185.0 1416.0 1196.4 1417.0 1197.4 1418.0 1187.3 1419.0 1192.8 1420.0 1194.5 1421.0 1196.5 1422.0 1189.0 1423.0 1190.3 1424.0 1187.3 1425.0 1195.3 1426.0 1191.4 1427.0 1189.9 1428.0 1196.8 1429.0 1192.2 1430.0 1186.4 1431.0 1199.5 1432.0 1198.7 1433.0 1196.0 1434.0 1187.8 1435.0 1200.2 1436.0 1191.0 1437.0 1184.2 1438.0 1194.4 1439.0 1205.7 1440.0 1193.5 1441.0 1199.9 1442.0 1204.8 1443.0 1198.7 1444.0 1196.4 1445.0 1198.8 1446.0 1202.5 1447.0 1196.9 1448.0 1202.2 1449.0 1203.8 1450.0 1199.0 1451.0 1205.5 1452.0 1205.0 1453.0 1200.4 1454.0 1201.6 1455.0 1203.6 1456.0 1202.5 1457.0 1202.5 1458.0 1198.4 1459.0 1205.0 1460.0 1208.9 1461.0 1208.3" stroke="#000"/>
<path d="M124.0 2018.8 125.0 2016.7 126.0 2021.0 127.0 2023.4 128.0 2025.9 129.0 2021.5 130.0 2018.5 131.0 2017.2 132.0 2023.0 133.0 2026.2 134.0 2020.4 135.0 2014.0 136.0 2014.8 137.0 2024.7 138.0 2018.6 139.0 2010.4 140.0 2016.5 141.0 2011.4 142.0 2012.5 143.0 2011.8 144.0 2009.6 145.0 2013.5 146.0 2009.9 147.0 2006.9 148.0 2010.1 149.0 2011.2 150.0 2000.7 151.0 2005.6 152.0 2002.2 153.0 2004.9 154.0 2000.0 155.0 2004.7 156.0 2003.9 157.0 2002.3 158.0 1998.8 159.0 2000.7 160.0 1997.2 161.0 1995.3 162.0 2000.7 163.0 1994.4 164.0 2002.4 165.0 1999.5 166.0 1987.4 167.0 1995.3 168.0 1988.5 169.0 1991.8 170.0 1990.6 171.0 1981.2 172.0 1987.0 173.0 1985.7 174.0 1989.4 175.0 1979.6 176.0 1986.2 177.0 1977.5 178.0 1979.5 179.0 1976.2 180.0 1984.4 181.0 1979.6 182.0 1986.1 183.0 1977.6 184.0 1977.3 185.0 1976.2 186.0 1969.1 187.0 1970.3 188.0 1975.2 189.0 1966.9 190.0 1968.4 191.0 1966.5 192.0 1968.1 193.0 1963.1 194.0 1963.0 195.0 1963.8 196.0 1962.3 197.0 1957.3 198.0 1964.0 199.0 1953.9 200.0 1953.6 201.0 1952.6 202.0 1961.8 203.0 1955.5 204.0 1952.4 205.0 1951.3 206.0 1957.7 207.0 1950.9 208.0 1949.6 209.0 1957.4 210.0 1949.0 211.0 1952.3 212.0 1953.1 213.0 1950.5 214.0 1951.4 215.0 1956.5 216.0 1946.7 217.0 1941.6 218.0 1937.0 219.0 1942.0 220.0 1938.9 221.0 1939.0 222.0 1933.1 223.0 1930.2 224.0 1925.8 225.0 1922.5 226.0 1921.0 227.0 1913.9 228.0 1911.9 229.0 1916.8 230.0 1908.2 231.0 1898.4 232.0 1908.4 233.0 1902.6 234.0 1899.3 235.0 1901.1 236.0 1899.7 237.0 1899.1 238.0 1900.2 239.0 1901.4 240.0 1905.4 241.0 1911.0 242.0 1908.1 243.0 1912.3 244.0 1918.9 245.0 1903.2 246.0 1908.6 247.0 1903.7 248.0 1897.6 249.0 1895.1 250.0 1897.1 251.0 1896.6 252.0 1889.4 253.0 1890.1 254.0 1891.7 255.0 1888.3 256.0 1889.9 257.0 1886.8 258.0 1885.9 259.0 1891.5 260.0 1884.7 261.0 1881.4 262.0 1883.3 263.0 1874.4 264.0 1876.4 265.0 1881.2 266.0 1879.5 267.0 1883.1 268.0 1874.5 269.0 1866.1 270.0 1882.2 271.0 1876.9 272.0 1865.1 273.0 1876.4 274.0 1868.6 275.0 1858.3 276.0 1864.4 277.0 1863.0 278.0 1872.7 279.0 1859.6 280.0 1861.4 281.0 1860.3 282.0 1858.9 283.0 1855.2 284.0 1860.2 285.0 1863.8 286.0 1860.6 287.0 1851.8 288.0 1849.8 289.0 1855.5 290.0 1850.3 291.0 1849.8 292.0 1843.3 293.0 1861.3 294.0 1854.8 295.0 1843.7 296.0 1852.3 297.0 1853.1 298.0 1831.9 299.0 1840.0 300.0 1839.2 301.0 1843.1 302.0 1837.4 303.0 1835.2 304.0 1834.6 305.0 1843.4 306.0 1843.7 307.0 1828.1 308.0 1824.9 309.0 1843.5 310.0 1822.9 311.0 1824.4 312.0 1827.0 313.0 1828.8 314.0 1831.1 315.0 1827.0 316.0 1819.5 317.0 1826.3 318.0 1824.1 319.0 1832.2 320.0 1820.8 321.0 1812.3 322.0 1812.3 323.0 1823.9 324.0 1810.5 325.0 1799.3 326.0 1805.6 327.0 1807.2 328.0 1812.7 329.0 1799.5 330.0 1808.1 331.0 1808.0 332.0 1798.8 333.0 1800.7 334.0 1810.4 335.0 1808.2 336.0 1799.9 337.0 1792.8 338.0 1793.2 339.0 1782.4 340.0 1780.4 341.0 1775.1 342.0 1779.5 343.0 1778.6 344.0 1794.7 345.0 1777.3 346.0 1785.3 347.0 1785.0 348.0 1775.3 349.0 1780.6 350.0 1757.4 351.0 1766.0 352.0 1766.2 353.0 1743.9 354.0 1749.3 355.0 1761.1 356.0 1752.6 357.0 1747.0 358.0 1750.6 359.0 1748.9 360.0 1755.5 361.0 1752.7 362.0 1746.3 363.0 1741.0 364.0 1741.0 365.0 1745.7 366.0 1736.7 367.0 1736.3 368.0 1730.3 369.0 1722.4 370.0 1725.0 371.0 1732.5 372.0 1728.4 373.0 1721.4 374.0 1716.1 375.0 1724.6 376.0 1719.7 377.0 1716.3 378.0 1712.9 379.0 1710.8 380.0 1709.0 381.0 1710.0 382.0 1710.6 383.0 1713.0 384.0 1713.7 385.0 1710.6 386.0 1712.4 387.0 1716.4 388.0 1712.1 389.0 1718.1 390.0 1722.4 391.0 1710.8 392.0 1705.2 393.0 1723.9 394.0 1716.6 395.0 1720.8 396.0 1707.6 397.0 1726.2 398.0 1719.2 399.0 1712.9 400.0 1710.5 401.0 1712.4 402.0 1709.6 403.0 1707.8 404.0 1701.4 405.0 1715.6 406.0 1706.4 407.0 1706.3 408.0 1705.8 409.0 1689.5 410.0 1707.3 411.0 1701.3 412.0 1701.0 413.0 1702.8 414.0 1695.6 415.0 1706.7 416.0 1696.3 417.0 1694.3 418.0 1694.0 419.0 1699.9 420.0 1703.0 421.0 1693.5 422.0 1686.5 423.0 1702.0 424.0 1686.6 425.0 1699.9 426.0 1690.1 427.0 1684.2 428.0 1683.3 429.0 1688.0 430.0 1687.8 431.0 1682.7 432.0 1683.9 433.0 1685.3 434.0 1681.3 435.0 1679.7 436.0 1679.8 437.0 1677.7 438.0 1679.1 439.0 1678.0 440.0 1673.5 441.0 1685.2 442.0 1664.1 443.0 1672.7 444.0 1695.2 445.0 1688.6 446.0 1685.1 447.0 1684.7 448.0 1693.5 449.0 1684.6 450.0 1680.6 451.0 1670.4 452.0 1676.7 453.0 1670.4 454.0 1668.7 455.0 1666.5 456.0 1669.0 457.0 1664.9 458.0 1671.1 459.0 1654.0 460.0 1660.1 461.0 1672.6 462.0 1658.5 463.0 1665.0 464.0 1663.0 465.0 1662.8 466.0 1657.2 467.0 1641.0 468.0 1647.2 469.0 1645.0 470.0 1635.5 471.0 1641.7 472.0 1635.0 473.0 1630.9 474.0 1643.0 475.0 1640.2 476.0 1634.8 477.0 1632.1 478.0 1634.2 479.0 1634.5 480.0 1633.7 481.0 1635.5 482.0 1632.1 483.0 1637.2 484.0 1637.4 485.0 1635.5 486.0 1627.3 487.0 1626.8 488.0 1633.3 489.0 1627.7 490.0 1627.7 491.0 1608.9 492.0 1606.1 493.0 1626.7 494.0 1625.3 495.0 1631.5 496.0 1624.9 497.0 1619.3 498.0 1615.6 499.0 1602.7 500.0 1617.1 501.0 1603.7 502.0 1609.3 503.0 1604.6 504.0 1602.9 505.0 1605.4 506.0 1593.4 507.0 1592.7 508.0 1587.9 509.0 1590.2 510.0 1604.1 511.0 1587.9 512.0 1598.4 513.0 1594.7 514.0 1593.0 515.0 1592.6 516.0 1578.2 517.0 1587.7 518.0 1596.0 519.0 1578.1 520.0 1582.2 521.0 1576.6 522.0 1583.6 523.0 1572.5 524.0 1592.2 525.0 1576.7 526.0 1567.3 527.0 1592.1 528.0 1585.4 529.0 1581.4 530.0 1580.9 531.0 1573.5 532.0 1573.9 533.0 1580.3 534.0 1580.9 535.0 1580.0 536.0 1573.1 537.0 1566.4 538.0 1566.9 539.0 1575.2 540.0 1575.9 541.0 1560.3 542.0 1557.4 543.0 1568.9 544.0 1563.1 545.0 1561.2 546.0 1544.2 547.0 1550.1 548.0 1547.8 549.0 1552.3 550.0 1536.5 551.0 1558.6 552.0 1550.1 553.0 1550.2 554.0 1536.6 555.0 1544.8 556.0 1554.5 557.0 1530.7 558.0 1544.5 559.0 1546.6 560.0 1534.5 561.0 1545.2 562.0 1535.0 563.0 1546.3 564.0 1539.5 565.0 1536.0 566.0 1548.9 567.0 1538.3 568.0 1540.8 569.0 1519.5 570.0 1522.3 571.0 1532.6 572.0 1531.4 573.0 1521.8 574.0 1526.5 575.0 1509.4 576.0 1516.8 577.0 1502.7 578.0 1511.3 579.0 1500.9 580.0 1495.8 581.0 1497.6 582.0 1508.0 583.0 1480.5 584.0 1478.9 585.0 1487.5 586.0 1470.6 587.0 1484.5 588.0 1467.9 589.0 1462.8 590.0 1460.2 591.0 1460.8 592.0 1453.7 593.0 1451.6 594.0 1450.5 595.0 1448.7 596.0 1453.9 597.0 1466.0 598.0 1469.1 599.0 1472.2 600.0 1478.3 601.0 1473.1 602.0 1483.8 603.0 1475.5 604.0 1487.0 605.0 1478.3 606.0 1483.0 607.0 1489.0 608.0 1482.8 609.0 1491.2 610.0 1489.8 611.0 1489.0 612.0 1497.0 613.0 1473.0 614.0 1471.1 615.0 1488.7 616.0 1490.1 617.0 1497.6 618.0 1485.4 619.0 1484.3 620.0 1468.0 621.0 1480.2 622.0 1477.9 623.0 1461.6 624.0 1461.7 625.0 1467.4 626.0 1470.1 627.0 1442.0 628.0 1467.8 629.0 1469.4 630.0 1466.2 631.0 1470.5 632.0 1472.6 633.0 1460.5 634.0 1473.4 635.0 1468.2 636.0 1462.8 637.0 1473.3 638.0 1484.8 639.0 1459.6 640.0 1458.1 641.0 1458.1 642.0 1489.3 643.0 1469.0 644.0 1469.4 645.0 1461.4 646.0 1458.2 647.0 1446.6 648.0 1463.7 649.0 1462.3 650.0 1440.5 651.0 1446.7 652.0 1447.4 653.0 1452.2 654.0 1453.3 655.0 1460.0 656.0 1461.2 657.0 1457.7 658.0 1459.2 659.0 1436.1 660.0 1440.7 661.0 1455.1 662.0 1446.8 663.0 1443.6 664.0 1425.1 665.0 1425.5 666.0 1448.0 667.0 1443.8 668.0 1437.4 669.0 1435.7 670.0 1423.2 671.0 1441.4 672.0 1446.7 673.0 1451.6 674.0 1436.6 675.0 1433.7 676.0 1425.0 677.0 1445.5 678.0 1449.3 679.0 1427.7 680.0 1435.4 681.0 1433.1 682.0 1426.6 683.0 1408.6 684.0 1427.7 685.0 1436.2 686.0 1417.0 687.0 1422.2 688.0 1402.0 689.0 1441.0 690.0 1433.4 691.0 1428.8 692.0 1425.5 693.0 1421.7 694.0 1426.4 695.0 1423.8 696.0 1423.9 697.0 1425.4 698.0 1426.4 699.0 1439.1 700.0 1410.7 701.0 1426.0 702.0 1417.2 703.0 1411.8 704.0 1399.6 705.0 1426.8 706.0 1411.1 707.0 1412.5 708.0 1423.1 709.0 1407.5 710.0 1416.7 711.0 1414.5 712.0 1421.3 713.0 1421.7 714.0 1402.4 715.0 1417.7 716.0 1406.5 717.0 1406.9 718.0 1402.2 719.0 1410.1 720.0 1389.8 721.0 1402.6 722.0 1410.1 723.0 1395.1 724.0 1415.9 725.0 1388.4 726.0 1396.3 727.0 1388.6 728.0 1386.3 729.0 1380.5 730.0 1385.0 731.0 1388.8 732.0 1380.8 733.0 1396.1 734.0 1401.4 735.0 1371.9 736.0 1393.9 737.0 1387.3 738.0 1387.5 739.0 1408.2 740.0 1396.0 741.0 1387.4 742.0 1385.7 743.0 1363.2 744.0 1390.7 745.0 1375.9 746.0 1384.2 747.0 1383.0 748.0 1390.5 749.0 1399.7 750.0 1388.3 751.0 1389.2 752.0 1372.7 753.0 1376.9 754.0 1377.3 755.0 1353.8 756.0 1384.3 757.0 1355.8 758.0 1348.3 759.0 1374.1 760.0 1377.3 761.0 1349.4 762.0 1349.3 763.0 1382.7 764.0 1354.5 765.0 1333.8 766.0 1346.1 767.0 1370.2 768.0 1356.8 769.0 1357.0 770.0 1360.8 771.0 1354.9 772.0 1344.5 773.0 1331.7 774.0 1350.2 775.0 1334.4 776.0 1343.4 777.0 1359.6 778.0 1347.0 779.0 1341.3 780.0 1340.2 781.0 1345.5 782.0 1346.2 783.0 1323.9 784.0 1337.2 785.0 1350.8 786.0 1340.8 787.0 1325.6 788.0 1325.7 789.0 1311.9 790.0 1323.3 791.0 1345.5 792.0 1328.9 793.0 1320.9 794.0 1323.0 795.0 1326.9 796.0 1326.4 797.0 1323.5 798.0 1319.0 799.0 1331.7 800.0 1339.7 801.0 1319.1 802.0 1318.7 803.0 1334.5 804.0 1308.6 805.0 1316.2 806.0 1317.5 807.0 1322.0 808.0 1317.2 809.0 1310.7 810.0 1321.5 811.0 1306.8 812.0 1301.0 813.0 1297.9 814.0 1324.0 815.0 1300.1 816.0 1320.6 817.0 1322.5 818.0 1323.6 819.0 1314.1 820.0 1310.3 821.0 1316.2 822.0 1309.5 823.0 1302.8 824.0 1326.8 825.0 1306.2 826.0 1331.6 827.0 1319.2 828.0 1309.8 829.0 1318.1 830.0 1325.4 831.0 1300.4 832.0 1304.5 833.0 1303.2 834.0 1314.5 835.0 1316.6 836.0 1312.8 837.0 1305.4 838.0 1307.2 839.0 1323.3 840.0 1322.4 841.0 1312.8 842.0 1298.9 843.0 1317.2 844.0 1313.8 845.0 1313.3 846.0 1327.1 847.0 1318.3 848.0 1301.0 849.0 1300.9 850.0 1323.0 851.0 1311.6 852.0 1317.9 853.0 1308.2 854.0 1299.9 855.0 1311.8 856.0 1323.8 857.0 1311.9 858.0 1297.7 859.0 1305.1 860.0 1303.0 861.0 1309.1 862.0 1316.7 863.0 1325.4 864.0 1308.4 865.0 1301.7 866.0 1305.9 867.0 1304.8 868.0 1299.9 869.0 1303.1 870.0 1301.7 871.0 1289.1 872.0 1303.9 873.0 1293.6 874.0 1286.0 875.0 1298.3 876.0 1287.3 877.0 1306.9 878.0 1293.3 879.0 1288.2 880.0 1279.1 881.0 1281.5 882.0 1292.7 883.0 1277.5 884.0 1290.6 885.0 1262.9 886.0 1284.3 887.0 1289.6 888.0 1284.6 889.0 1280.9 890.0 1290.0 891.0 1271.7 892.0 1269.8 893.0 1279.4 894.0 1288.9 895.0 1280.5 896.0 1273.0 897.0 1275.9 898.0 1275.1 899.0 1256.8 900.0 1239.5 901.0 1254.0 902.0 1247.1 903.0 1253.3 904.0 1245.2 905.0 1246.3 906.0 1256.8 907.0 1252.1 908.0 1249.8 909.0 1264.7 910.0 1243.4 911.0 1243.1 912.0 1257.6 913.0 1234.0 914.0 1228.1 915.0 1253.4 916.0 1244.0 917.0 1244.0 918.0 1242.5 919.0 1241.9 920.0 1238.5 921.0 1239.4 922.0 1236.9 923.0 1240.0 924.0 1240.8 925.0 1237.2 926.0 1245.2 927.0 1266.8 928.0 1229.4 929.0 1248.3 930.0 1249.4 931.0 1250.6 932.0 1232.8 933.0 1251.9 934.0 1246.7 935.0 1239.3 936.0 1237.0 937.0 1242.2 938.0 1248.3 939.0 1247.2 940.0 1259.8 941.0 1233.9 942.0 1242.2 943.0 1231.2 944.0 1241.7 945.0 1234.3 946.0 1226.2 947.0 1218.1 948.0 1222.1 949.0 1230.0 950.0 1239.5 951.0 1230.4 952.0 1209.0 953.0 1212.8 954.0 1214.8 955.0 1210.3 956.0 1209.2 957.0 1213.2 958.0 1205.4 959.0 1195.1 960.0 1184.8 961.0 1194.2 962.0 1187.1 963.0 1191.4 964.0 1191.3 965.0 1186.9 966.0 1190.2 967.0 1190.8 968.0 1200.9 969.0 1198.0 970.0 1184.4 971.0 1204.1 972.0 1206.5 973.0 1202.8 974.0 1202.8 975.0 1213.4 976.0 1215.1 977.0 1214.0 978.0 1201.4 979.0 1209.3 980.0 1197.7 981.0 1199.2 982.0 1208.9 983.0 1205.0 984.0 1212.0 985.0 1240.4 986.0 1222.5 987.0 1210.4 988.0 1199.5 989.0 1213.5 990.0 1209.6 991.0 1204.2 992.0 1234.0 993.0 1224.7 994.0 1235.6 995.0 1262.9 996.0 1238.0 997.0 1238.3 998.0 1242.0 999.0 1237.3 1000.0 1232.7 1001.0 1238.8 1002.0 1251.7 1003.0 1238.3 1004.0 1227.8 1005.0 1229.0 1006.0 1231.1 1007.0 1241.0 1008.0 1245.5 1009.0 1245.5 1010.0 1252.3 1011.0 1239.1 1012.0 1249.0 1013.0 1244.3 1014.0 1247.9 1015.0 1223.8 1016.0 1253.1 1017.0 1226.5 1018.0 1230.3 1019.0 1248.2 1020.0 1236.9 1021.0 1257.2 1022.0 1241.6 1023.0 1230.1 1024.0 1241.1 1025.0 1235.6 1026.0 1254.0 1027.0 1254.6 1028.0 1246.1 1029.0 1235.3 1030.0 1240.0 1031.0 1249.1 1032.0 1231.6 1033.0 1231.6 1034.0 1247.3 1035.0 1246.2 1036.0 1237.0 1037.0 1236.7 1038.0 1220.7 1039.0 1250.4 1040.0 1238.1 1041.0 1225.7 1042.0 1228.4 1043.0 1230.3 1044.0 1254.5 1045.0 1244.1 1046.0 1223.9 1047.0 1253.1 1048.0 1247.0 1049.0 1223.0 1050.0 1206.5 1051.0 1239.6 1052.0 1223.4 1053.0 1226.6 1054.0 1221.7 1055.0 1237.7 1056.0 1238.7 1057.0 1231.2 1058.0 1221.0 1059.0 1223.7 1060.0 1226.0 1061.0 1204.0 1062.0 1229.6 1063.0 1213.7 1064.0 1218.2 1065.0 1216.1 1066.0 1222.5 1067.0 1223.3 1068.0 1233.5 1069.0 1208.7 1070.0 1203.0 1071.0 1212.5 1072.0 1204.7 1073.0 1218.8 1074.0 1202.6 1075.0 1211.3 1076.0 1218.7 1077.0 1219.1 1078.0 1211.0 1079.0 1222.1 1080.0 1220.5 1081.0 1191.6 1082.0 1210.5 1083.0 1208.2 1084.0 1202.9 1085.0 1198.8 1086.0 1204.3 1087.0 1206.4 1088.0 1204.1 1089.0 1213.0 1090.0 1207.9 1091.0 1191.0 1092.0 1187.4 1093.0 1199.6 1094.0 1179.8 1095.0 1181.6 1096.0 1177.5 1097.0 1175.1 1098.0 1164.0 1099.0 1162.7 1100.0 1147.0 1101.0 1145.0 1102.0 1138.0 1103.0 1138.5 1104.0 1140.3 1105.0 1142.6 1106.0 1141.1 1107.0 1163.9 1108.0 1167.9 1109.0 1173.5 1110.0 1173.9 1111.0 1185.7 1112.0 1200.3 1113.0 1201.1 1114.0 1213.6 1115.0 1204.6 1116.0 1196.6 1117.0 1210.9 1118.0 1199.7 1119.0 1208.3 1120.0 1189.5 1121.0 1203.7 1122.0 1212.6 1123.0 1201.3 1124.0 1207.2 1125.0 1213.1 1126.0 1208.1 1127.0 1224.4 1128.0 1205.0 1129.0 1205.8 1130.0 1205.9 1131.0 1188.7 1132.0 1192.9 1133.0 1212.5 1134.0 1204.3 1135.0 1220.7 1136.0 1207.2 1137.0 1207.7 1138.0 1220.7 1139.0 1215.0 1140.0 1228.5 1141.0 1203.6 1142.0 1218.3 1143.0 1220.9 1144.0 1220.1 1145.0 1226.0 1146.0 1225.1 1147.0 1215.8 1148.0 1210.2 1149.0 1224.8 1150.0 1215.6 1151.0 1223.4 1152.0 1226.1 1153.0 1213.8 1154.0 1201.7 1155.0 1206.0 1156.0 1214.1 1157.0 1202.4 1158.0 1213.9 1159.0 1201.2 1160.0 1199.5 1161.0 1190.7 1162.0 1191.0 1163.0 1192.4 1164.0 1184.2 1165.0 1182.2 1166.0 1180.4 1167.0 1184.5 1168.0 1180.3 1169.0 1183.2 1170.0 1193.1 1171.0 1200.5 1172.0 1190.7 1173.0 1204.0 1174.0 1178.4 1175.0 1207.2 1176.0 1205.6 1177.0 1194.2 1178.0 1191.9 1179.0 1207.0 1180.0 1217.2 1181.0 1221.0 1182.0 1221.1 1183.0 1229.6 1184.0 1230.9 1185.0 1212.7 1186.0 1223.7 1187.0 1223.9 1188.0 1239.9 1189.0 1226.7 1190.0 1242.2 1191.0 1234.6 1192.0 1257.1 1193.0 1235.3 1194.0 1236.8 1195.0 1236.5 1196.0 1239.8 1197.0 1262.1 1198.0 1234.9 1199.0 1231.9 1200.0 1238.9 1201.0 1247.6 1202.0 1232.4 1203.0 1249.9 1204.0 1250.1 1205.0 1241.9 1206.0 1241.7 1207.0 1237.4 1208.0 1243.3 1209.0 1239.5 1210.0 1260.2 1211.0 1265.2 1212.0 1248.4 1213.0 1251.9 1214.0 1235.4 1215.0 1249.3 1216.0 1258.2 1217.0 1257.9 1218.0 1256.4 1219.0 1262.4 1220.0 1253.7 1221.0 1247.1 1222.0 1263.5 1223.0 1227.3 1224.0 1231.4 1225.0 1232.2 1226.0 1229.0 1227.0 1225.4 1228.0 1227.6 1229.0 1220.2 1230.0 1223.4 1231.0 1226.3 1232.0 1217.7 1233.0 1215.3 1234.0 1201.7 1235.0 1196.4 1236.0 1201.0 1237.0 1209.3 1238.0 1201.1 1239.0 1205.0 1240.0 1201.5 1241.0 1199.3 1242.0 1181.1 1243.0 1191.0 1244.0 1184.8 1245.0 1184.7 1246.0 1179.9 1247.0 1178.8 1248.0 1179.5 1249.0 1185.0 1250.0 1184.9 1251.0 1198.0 1252.0 1207.3 1253.0 1223.7 1254.0 1216.1 1255.0 1231.2 1256.0 1254.9 1257.0 1240.1 1258.0 1261.0 1259.0 1256.5 1260.0 1268.3 1261.0 1279.4 1262.0 1286.3 1263.0 1275.3 1264.0 1272.1 1265.0 1297.5 1266.0 1286.2 1267.0 1293.0 1268.0 1295.0 1269.0 1294.5 1270.0 1285.7 1271.0 1287.7 1272.0 1275.2 1273.0 1292.5 1274.0 1287.3 1275.0 1292.3 1276.0 1310.8 1277.0 1300.4 1278.0 1295.1 1279.0 1282.5 1280.0 1302.9 1281.0 1311.1 1282.0 1289.9 1283.0 1302.6 1284.0 1294.8 1285.0 1299.7 1286.0 1299.4 1287.0 1289.8 1288.0 1302.2 1289.0 1294.0 1290.0 1324.2 1291.0 1322.9 1292.0 1315.2 1293.0 1318.6 1294.0 1317.3 1295.0 1318.8 1296.0 1318.7 1297.0 1314.7 1298.0 1315.4 1299.0 1304.4 1300.0 1307.6 1301.0 1311.3 1302.0 1318.9 1303.0 1313.4 1304.0 1334.7 1305.0 1315.1 1306.0 1313.6 1307.0 1321.0 1308.0 1326.5 1309.0 1334.2 1310.0 1326.0 1311.0 1312.1 1312.0 1315.8 1313.0 1322.3 1314.0 1317.8 1315.0 1318.7 1316.0 1316.7 1317.0 1320.6 1318.0 1320.5 1319.0 1320.6 1320.0 1319.1 1321.0 1310.3 1322.0 1310.9 1323.0 1324.9 1324.0 1329.4 1325.0 1297.6 1326.0 1321.6 1327.0 1337.9 1328.0 1337.1 1329.0 1324.7 1330.0 1336.5 1331.0 1332.1 1332.0 1331.2 1333.0 1344.9 1334.0 1346.3 1335.0 1332.0 1336.0 1329.0 1337.0 1326.4 1338.0 1325.8 1339.0 1351.6 1340.0 1356.6 1341.0 1341.2 1342.0 1349.0 1343.0 1332.9 1344.0 1338.6 1345.0 1347.7 1346.0 1342.2 1347.0 1338.9 1348.0 1323.8 1349.0 1325.8 1350.0 1335.4 1351.0 1334.2 1352.0 1338.8 1353.0 1333.8 1354.0 1338.0 1355.0 1341.0 1356.0 1345.7 1357.0 1342.0 1358.0 1336.9 1359.0 1340.0 1360.0 1351.5 1361.0 1341.8 1362.0 1335.6 1363.0 1336.2 1364.0 1349.4 1365.0 1353.3 1366.0 1360.9 1367.0 1348.1 1368.0 1365.3 1369.0 1350.7 1370.0 1353.0 1371.0 1350.9 1372.0 1361.7 1373.0 1367.2 1374.0 1357.8 1375.0 1354.0 1376.0 1344.9 1377.0 1361.0 1378.0 1356.9 1379.0 1358.6 1380.0 1355.0 1381.0 1353.0 1382.0 1357.2 1383.0 1365.4 1384.0 1370.1 1385.0 1361.1 1386.0 1364.2 1387.0 1359.4 1388.0 1360.1 1389.0 1351.7 1390.0 1365.9 1391.0 1363.4 1392.0 1364.4 1393.0 1359.6 1394.0 1361.3 1395.0 1359.3 1396.0 1363.0 1397.0 1363.5 1398.0 1369.5 1399.0 1367.0 1400.0 1375.8 1401.0 1368.1 1402.0 1380.2 1403.0 1373.8 1404.0 1374.0 1405.0 1379.7 1406.0 1382.9 1407.0 1367.0 1408.0 1366.4 1409.0 1382.5 1410.0 1380.6 1411.0 1362.7 1412.0 1366.0 1413.0 1374.9 1414.0 1385.3 1415.0 1384.5 1416.0 1392.4 1417.0 1394.4 1418.0 1406.0 1419.0 1371.7 1420.0 1385.4 1421.0 1396.4 1422.0 1375.9 1423.0 1375.2 1424.0 1390.7 1425.0 1399.5 1426.0 1401.4 1427.0 1373.7 1428.0 1378.9 1429.0 1389.2 1430.0 1385.2 1431.0 1393.0 1432.0 1391.3 1433.0 1406.3 1434.0 1389.5 1435.0 1391.7 1436.0 1390.8 1437.0 1400.3 1438.0 1379.8 1439.0 1393.6 1440.0 1382.8 1441.0 1376.7 1442.0 1400.4 1443.0 1394.1 1444.0 1401.9 1445.0 1391.1 1446.0 1394.5 1447.0 1389.5 1448.0 1393.3 1449.0 1384.2 1450.0 1403.8 1451.0 1379.9 1452.0 1404.1 1453.0 1386.8 1454.0 1397.0 1455.0 1390.7 1456.0 1394.1 1457.0 1404.3 1458.0 1392.4 1459.0 1383.0 1460.0 1394.7 1461.0 1398.5" stroke="#f00"/>
<path d="M124.0 2362.1 125.0 2365.5 126.0 2344.7 127.0 2355.9 128.0 2360.9 129.0 2362.0 130.0 2358.1 131.0 2361.6 132.0 2355.2 133.0 2355.8 134.0 2353.3 135.0 2346.6 136.0 2346.9 137.0 2352.0 138.0 2346.6 139.0 2354.6 140.0 2353.7 141.0 2355.2 142.0 2345.4 143.0 2351.1 144.0 2339.0 145.0 2338.4 146.0 2341.6 147.0 2341.5 148.0 2331.4 149.0 2329.7 150.0 2338.7 151.0 2331.9 152.0 2340.8 153.0 2336.0 154.0 2334.6 155.0 2333.1 156.0 2335.4 157.0 2329.4 158.0 2334.3 159.0 2325.5 160.0 2325.9 161.0 2322.6 162.0 2327.7 163.0 2323.8 164.0 2318.4 165.0 2331.0 166.0 2318.4 167.0 2318.4 168.0 2319.5 169.0 2324.7 170.0 2314.3 171.0 2317.0 172.0 2312.6 173.0 2303.5 174.0 2312.9 175.0 2312.4 176.0 2304.6 177.0 2304.0 178.0 2295.1 179.0 2293.3 180.0 2297.1 181.0 2300.3 182.0 2293.1 183.0 2294.9 184.0 2296.3 185.0 2290.1 186.0 2290.6 187.0 2293.1 188.0 2277.9 189.0 2286.2 190.0 2271.6 191.0 2281.8 192.0 2279.4 193.0 2274.5 194.0 2270.8 195.0 2274.8 196.0 2272.0 197.0 2273.5 198.0 2267.3 199.0 2273.5 200.0 2264.3 201.0 2266.6 202.0 2264.7 203.0 2271.6 204.0 2255.8 205.0 2259.7 206.0 2266.1 207.0 2254.9 208.0 2250.2 209.0 2256.5 210.0 2251.9 211.0 2256.3 212.0 2245.8 213.0 2250.4 214.0 2251.8 215.0 2252.6 216.0 2240.2 217.0 2252.2 218.0 2238.6 219.0 2233.7 220.0 2234.7 221.0 2238.3 222.0 2232.6 223.0 2232.6 224.0 2228.3 225.0 2222.0 226.0 2214.4 227.0 2214.2 228.0 2196.7 229.0 2189.5 230.0 2185.2 231.0 2183.5 232.0 2182.9 233.0 2186.8 234.0 2188.6 235.0 2184.2 236.0 2198.9 237.0 2203.9 238.0 2205.6 239.0 2198.2 240.0 2203.8 241.0 2198.8 242.0 2207.7 243.0 2204.1 244.0 2210.7 245.0 2206.7 246.0 2213.8 247.0 2211.9 248.0 2212.9 249.0 2195.6 250.0 2192.6 251.0 2202.9 252.0 2195.2 253.0 2198.3 254.0 2195.3 255.0 2192.2 256.0 2194.0 257.0 2189.6 258.0 2186.9 259.0 2177.2 260.0 2190.2 261.0 2179.6 262.0 2183.7 263.0 2177.8 264.0 2181.7 265.0 2173.9 266.0 2172.9 267.0 2171.2 268.0 2165.1 269.0 2164.8 270.0 2166.2 271.0 2165.5 272.0 2159.7 273.0 2178.3 274.0 2158.5 275.0 2161.8 276.0 2177.3 277.0 2158.9 278.0 2166.7 279.0 2165.7 280.0 2160.2 281.0 2152.5 282.0 2151.3 283.0 2159.7 284.0 2161.5 285.0 2145.5 286.0 2158.2 287.0 2152.3 288.0 2159.4 289.0 2152.0 290.0 2142.4 291.0 2140.4 292.0 2139.1 293.0 2143.0 294.0 2149.8 295.0 2132.1 296.0 2129.2 297.0 2131.4 298.0 2126.2 299.0 2129.2 300.0 2126.8 301.0 2123.6 302.0 2118.1 303.0 2123.1 304.0 2126.8 305.0 2121.0 306.0 2129.0 307.0 2124.6 308.0 2117.1 309.0 2127.4 310.0 2108.7 311.0 2121.4 312.0 2124.0 313.0 2109.3 314.0 2108.4 315.0 2112.9 316.0 2113.9 317.0 2105.9 318.0 2102.7 319.0 2104.9 320.0 2099.1 321.0 2088.2 322.0 2093.0 323.0 2092.6 324.0 2081.9 325.0 2092.3 326.0 2083.7 327.0 2091.4 328.0 2075.7 329.0 2077.6 330.0 2072.4 331.0 2087.9 332.0 2086.1 333.0 2085.5 334.0 2083.6 335.0 2078.2 336.0 2076.2 337.0 2057.8 338.0 2068.9 339.0 2061.7 340.0 2061.1 341.0 2053.5 342.0 2068.0 343.0 2058.9 344.0 2046.6 345.0 2057.7 346.0 2052.2 347.0 2044.1 348.0 2047.1 349.0 2042.2 350.0 2030.5 351.0 2033.5 352.0 2044.7 353.0 2041.6 354.0 2039.1 355.0 2027.3 356.0 2028.7 357.0 2030.6 358.0 2032.1 359.0 2019.4 360.0 2015.4 361.0 2027.2 362.0 2017.6 363.0 2012.1 364.0 2007.3 365.0 2005.5 366.0 2018.3 367.0 2012.2 368.0 2001.3 369.0 1994.1 370.0 2012.1 371.0 2009.9 372.0 2006.0 373.0 2002.2 374.0 1982.3 375.0 1984.8 376.0 1995.9 377.0 1988.8 378.0 1991.0 379.0 1984.1 380.0 1981.4 381.0 1987.2 382.0 1977.3 383.0 1976.1 384.0 1973.9 385.0 1970.9 386.0 1971.5 387.0 1968.9 388.0 1963.1 389.0 1964.5 390.0 1964.8 391.0 1969.6 392.0 1968.3 393.0 1977.6 394.0 1980.5 395.0 1981.6 396.0 1971.4 397.0 1976.8 398.0 1970.9 399.0 1981.3 400.0 1985.3 401.0 1968.1 402.0 1973.0 403.0 1977.7 404.0 1975.2 405.0 1989.4 406.0 1978.0 407.0 1980.8 408.0 1971.0 409.0 1989.3 410.0 1978.9 411.0 1982.2 412.0 1976.1 413.0 1959.1 414.0 1961.3 415.0 1962.0 416.0 1972.9 417.0 1964.3 418.0 1969.5 419.0 1967.0 420.0 1965.5 421.0 1969.1 422.0 1962.8 423.0 1948.7 424.0 1954.7 425.0 1970.6 426.0 1950.0 427.0 1966.6 428.0 1967.8 429.0 1950.6 430.0 1956.4 431.0 1942.7 432.0 1957.4 433.0 1945.0 434.0 1940.0 435.0 1945.3 436.0 1943.4 437.0 1940.9 438.0 1944.9 439.0 1940.5 440.0 1935.1 441.0 1945.2 442.0 1954.2 443.0 1935.2 444.0 1927.8 445.0 1924.0 446.0 1934.2 447.0 1926.6 448.0 1927.4 449.0 1911.3 450.0 1916.6 451.0 1915.4 452.0 1930.1 453.0 1920.1 454.0 1902.6 455.0 1923.8 456.0 1927.8 457.0 1928.2 458.0 1896.4 459.0 1917.6 460.0 1921.6 461.0 1918.9 462.0 1911.5 463.0 1898.6 464.0 1907.8 465.0 1907.5 466.0 1913.1 467.0 1912.4 468.0 1904.6 469.0 1911.6 470.0 1895.9 471.0 1897.5 472.0 1901.2 473.0 1904.5 474.0 1896.3 475.0 1906.8 476.0 1899.0 477.0 1887.0 478.0 1893.3 479.0 1884.1 480.0 1881.8 481.0 1876.5 482.0 1896.7 483.0 1891.2 484.0 1870.1 485.0 1889.5 486.0 1886.8 487.0 1875.1 488.0 1880.5 489.0 1892.8 490.0 1876.3 491.0 1876.2 492.0 1880.6 493.0 1862.7 494.0 1859.8 495.0 1857.6 496.0 1867.0 497.0 1873.3 498.0 1858.5 499.0 1853.1 500.0 1864.2 501.0 1858.2 502.0 1864.2 503.0 1856.4 504.0 1853.7 505.0 1852.0 506.0 1850.4 507.0 1839.7 508.0 1835.7 509.0 1854.6 510.0 1862.8 511.0 1845.6 512.0 1821.1 513.0 1832.2 514.0 1839.5 515.0 1815.2 516.0 1822.6 517.0 1821.7 518.0 1816.1 519.0 1815.2 520.0 1828.8 521.0 1815.6 522.0 1816.1 523.0 1830.6 524.0 1808.5 525.0 1798.5 526.0 1818.1 527.0 1828.0 528.0 1812.0 529.0 1811.5 530.0 1797.1 531.0 1798.7 532.0 1817.2 533.0 1814.2 534.0 1807.5 535.0 1796.1 536.0 1790.3 537.0 1790.3 538.0 1788.1 539.0 1801.6 540.0 1788.9 541.0 1790.2 542.0 1798.9 543.0 1797.7 544.0 1791.5 545.0 1794.0 546.0 1789.0 547.0 1771.8 548.0 1786.4 549.0 1782.5 550.0 1782.1 551.0 1786.1 552.0 1778.4 553.0 1792.5 554.0 1779.8 555.0 1781.6 556.0 1782.1 557.0 1777.1 558.0 1783.3 559.0 1783.4 560.0 1781.7 561.0 1769.5 562.0 1767.0 563.0 1768.6 564.0 1772.8 565.0 1755.7 566.0 1763.1 567.0 1759.0 568.0 1761.4 569.0 1756.7 570.0 1767.4 571.0 1759.1 572.0 1757.6 573.0 1734.7 574.0 1730.4 575.0 1729.0 576.0 1741.3 577.0 1737.7 578.0 1714.2 579.0 1721.6 580.0 1731.5 581.0 1700.9 582.0 1705.0 583.0 1714.8 584.0 1706.6 585.0 1688.1 586.0 1706.0 587.0 1696.9 588.0 1689.1 589.0 1673.0 590.0 1675.7 591.0 1677.1 592.0 1672.3 593.0 1671.9 594.0 1669.7 595.0 1675.5 596.0 1674.5 597.0 1683.2 598.0 1685.0 599.0 1679.6 600.0 1703.1 601.0 1681.6 602.0 1689.3 603.0 1700.1 604.0 1689.3 605.0 1688.3 606.0 1705.4 607.0 1704.0 608.0 1705.9 609.0 1712.8 610.0 1728.5 611.0 1704.4 612.0 1729.9 613.0 1710.0 614.0 1706.8 615.0 1683.2 616.0 1693.4 617.0 1709.3 618.0 1711.6 619.0 1698.8 620.0 1708.7 621.0 1713.7 622.0 1700.1 623.0 1689.9 624.0 1694.8 625.0 1699.9 626.0 1704.1 627.0 1707.2 628.0 1690.3 629.0 1697.6 630.0 1693.4 631.0 1694.6 632.0 1703.0 633.0 1703.5 634.0 1686.0 635.0 1683.8 636.0 1682.1 637.0 1682.7 638.0 1683.0 639.0 1684.5 640.0 1680.6 641.0 1674.7 642.0 1673.1 643.0 1683.7 644.0 1705.0 645.0 1686.8 646.0 1686.9 647.0 1683.2 648.0 1677.5 649.0 1696.6 650.0 1673.8 651.0 1666.4 652.0 1662.5 653.0 1674.3 654.0 1661.8 655.0 1661.4 656.0 1659.8 657.0 1654.1 658.0 1666.5 659.0 1647.7 660.0 1683.5 661.0 1634.8 662.0 1646.4 663.0 1658.9 664.0 1661.0 665.0 1652.5 666.0 1657.1 667.0 1654.7 668.0 1653.0 669.0 1655.7 670.0 1651.3 671.0 1648.1 672.0 1647.3 673.0 1649.4 674.0 1646.5 675.0 1648.1 676.0 1650.6 677.0 1647.9 678.0 1651.8 679.0 1644.8 680.0 1649.2 681.0 1651.7 682.0 1649.5 683.0 1651.8 684.0 1660.5 685.0 1644.3 686.0 1640.9 687.0 1650.3 688.0 1633.4 689.0 1647.0 690.0 1658.3 691.0 1646.9 692.0 1651.9 693.0 1649.9 694.0 1657.0 695.0 1649.7 696.0 1645.9 697.0 1614.6 698.0 1637.0 699.0 1647.6 700.0 1638.5 701.0 1631.8 702.0 1646.5 703.0 1628.7 704.0 1633.0 705.0 1641.8 706.0 1629.5 707.0 1635.1 708.0 1632.3 709.0 1620.0 710.0 1625.2 711.0 1625.5 712.0 1621.4 713.0 1636.2 714.0 1623.4 715.0 1615.0 716.0 1605.1 717.0 1612.2 718.0 1624.7 719.0 1606.3 720.0 1613.4 721.0 1607.9 722.0 1596.2 723.0 1590.1 724.0 1602.5 725.0 1579.5 726.0 1599.1 727.0 1580.6 728.0 1598.4 729.0 1585.0 730.0 1586.6 731.0 1596.3 732.0 1575.8 733.0 1585.2 734.0 1581.3 735.0 1588.9 736.0 1590.7 737.0 1586.4 738.0 1585.5 739.0 1579.6 740.0 1589.1 741.0 1580.9 742.0 1584.3 743.0 1584.6 744.0 1569.7 745.0 1571.6 746.0 1584.2 747.0 1581.7 748.0 1593.5 749.0 1558.1 750.0 1582.9 751.0 1590.8 752.0 1580.9 753.0 1586.9 754.0 1579.1 755.0 1577.7 756.0 1586.0 757.0 1563.7 758.0 1553.0 759.0 1576.9 760.0 1571.3 761.0 1568.9 762.0 1568.2 763.0 1569.0 764.0 1556.2 765.0 1562.9 766.0 1559.3 767.0 1543.4 768.0 1551.0 769.0 1553.1 770.0 1541.1 771.0 1556.7 772.0 1541.9 773.0 1550.5 774.0 1554.7 775.0 1524.6 776.0 1523.8 777.0 1539.6 778.0 1529.2 779.0 1532.6 780.0 1540.6 781.0 1515.9 782.0 1523.2 783.0 1511.9 784.0 1507.7 785.0 1509.3 786.0 1507.0 787.0 1508.3 788.0 1506.5 789.0 1507.9 790.0 1508.0 791.0 1497.4 792.0 1504.3 793.0 1504.5 794.0 1516.2 795.0 1498.2 796.0 1510.6 797.0 1505.5 798.0 1492.6 799.0 1509.5 800.0 1518.5 801.0 1510.5 802.0 1524.8 803.0 1521.6 804.0 1522.8 805.0 1516.7 806.0 1521.5 807.0 1528.7 808.0 1525.1 809.0 1513.2 810.0 1523.1 811.0 1528.1 812.0 1534.5 813.0 1530.9 814.0 1512.5 815.0 1527.6 816.0 1504.4 817.0 1512.5 818.0 1509.9 819.0 1531.5 820.0 1522.5 821.0 1517.6 822.0 1507.5 823.0 1524.1 824.0 1508.4 825.0 1514.1 826.0 1519.0 827.0 1504.4 828.0 1511.7 829.0 1486.8 830.0 1511.4 831.0 1489.4 832.0 1510.0 833.0 1509.0 834.0 1511.1 835.0 1529.2 836.0 1483.0 837.0 1511.9 838.0 1503.9 839.0 1515.2 840.0 1511.1 841.0 1509.1 842.0 1502.8 843.0 1499.9 844.0 1509.1 845.0 1489.7 846.0 1511.5 847.0 1497.6 848.0 1502.2 849.0 1494.9 850.0 1498.9 851.0 1496.8 852.0 1499.2 853.0 1500.7 854.0 1496.7 855.0 1500.0 856.0 1502.2 857.0 1513.6 858.0 1490.5 859.0 1509.9 860.0 1504.9 861.0 1494.0 862.0 1502.8 863.0 1498.9 864.0 1513.9 865.0 1490.3 866.0 1504.8 867.0 1485.7 868.0 1489.1 869.0 1469.6 870.0 1471.3 871.0 1470.9 872.0 1465.8 873.0 1463.5 874.0 1467.3 875.0 1469.3 876.0 1467.4 877.0 1466.2 878.0 1470.5 879.0 1463.7 880.0 1476.6 881.0 1478.3 882.0 1455.1 883.0 1477.8 884.0 1474.2 885.0 1469.8 886.0 1472.6 887.0 1478.4 888.0 1481.4 889.0 1476.4 890.0 1456.1 891.0 1469.4 892.0 1438.0 893.0 1461.2 894.0 1457.8 895.0 1459.3 896.0 1439.9 897.0 1461.8 898.0 1459.3 899.0 1447.9 900.0 1431.1 901.0 1447.3 902.0 1434.9 903.0 1426.9 904.0 1434.1 905.0 1462.8 906.0 1423.9 907.0 1433.0 908.0 1436.1 909.0 1441.1 910.0 1419.7 911.0 1417.6 912.0 1433.7 913.0 1425.8 914.0 1433.7 915.0 1409.1 916.0 1418.9 917.0 1428.7 918.0 1420.6 919.0 1408.1 920.0 1420.2 921.0 1400.2 922.0 1411.1 923.0 1426.1 924.0 1427.1 925.0 1422.1 926.0 1424.7 927.0 1402.8 928.0 1411.0 929.0 1427.3 930.0 1439.3 931.0 1420.9 932.0 1407.1 933.0 1406.3 934.0 1427.1 935.0 1425.5 936.0 1402.3 937.0 1415.0 938.0 1426.4 939.0 1425.4 940.0 1404.8 941.0 1406.3 942.0 1410.5 943.0 1392.9 944.0 1385.2 945.0 1392.1 946.0 1408.4 947.0 1404.9 948.0 1396.8 949.0 1378.5 950.0 1368.6 951.0 1375.5 952.0 1384.0 953.0 1391.6 954.0 1370.6 955.0 1377.9 956.0 1357.4 957.0 1352.2 958.0 1371.1 959.0 1358.5 960.0 1359.5 961.0 1352.0 962.0 1366.4 963.0 1357.0 964.0 1360.3 965.0 1356.0 966.0 1360.9 967.0 1370.0 968.0 1372.7 969.0 1375.7 970.0 1384.0 971.0 1384.5 972.0 1395.6 973.0 1369.4 974.0 1399.3 975.0 1388.3 976.0 1378.9 977.0 1396.6 978.0 1397.2 979.0 1392.8 980.0 1402.2 981.0 1381.4 982.0 1378.7 983.0 1390.0 984.0 1407.6 985.0 1403.1 986.0 1399.2 987.0 1394.9 988.0 1404.2 989.0 1419.6 990.0 1406.7 991.0 1410.7 992.0 1424.9 993.0 1430.6 994.0 1428.3 995.0 1442.8 996.0 1431.7 997.0 1421.1 998.0 1409.8 999.0 1444.3 1000.0 1431.8 1001.0 1437.3 1002.0 1439.0 1003.0 1448.2 1004.0 1445.2 1005.0 1444.5 1006.0 1437.1 1007.0 1431.6 1008.0 1435.9 1009.0 1424.3 1010.0 1435.3 1011.0 1441.5 1012.0 1437.2 1013.0 1430.7 1014.0 1419.3 1015.0 1418.0 1016.0 1418.2 1017.0 1420.0 1018.0 1427.1 1019.0 1426.3 1020.0 1426.0 1021.0 1429.6 1022.0 1409.1 1023.0 1416.2 1024.0 1423.1 1025.0 1425.4 1026.0 1410.3 1027.0 1409.7 1028.0 1427.6 1029.0 1422.4 1030.0 1419.4 1031.0 1411.0 1032.0 1403.1 1033.0 1410.6 1034.0 1411.2 1035.0 1410.0 1036.0 1408.9 1037.0 1405.4 1038.0 1407.7 1039.0 1403.9 1040.0 1406.7 1041.0 1407.8 1042.0 1400.6 1043.0 1403.4 1044.0 1410.1 1045.0 1418.1 1046.0 1421.3 1047.0 1431.3 1048.0 1417.9 1049.0 1413.7 1050.0 1418.4 1051.0 1400.9 1052.0 1408.8 1053.0 1398.1 1054.0 1406.3 1055.0 1396.4 1056.0 1397.3 1057.0 1418.5 1058.0 1408.3 1059.0 1415.8 1060.0 1394.0 1061.0 1389.8 1062.0 1386.4 1063.0 1387.7 1064.0 1382.7 1065.0 1387.3 1066.0 1386.4 1067.0 1384.6 1068.0 1381.6 1069.0 1386.3 1070.0 1390.7 1071.0 1395.2 1072.0 1380.4 1073.0 1396.7 1074.0 1399.9 1075.0 1417.3 1076.0 1396.0 1077.0 1398.4 1078.0 1378.5 1079.0 1382.3 1080.0 1372.1 1081.0 1369.0 1082.0 1381.4 1083.0 1374.0 1084.0 1390.8 1085.0 1375.9 1086.0 1380.4 1087.0 1363.8 1088.0 1365.9 1089.0 1382.6 1090.0 1368.9 1091.0 1388.3 1092.0 1365.6 1093.0 1362.5 1094.0 1383.0 1095.0 1352.7 1096.0 1357.2 1097.0 1357.8 1098.0 1355.1 1099.0 1349.4 1100.0 1357.8 1101.0 1351.9 1102.0 1347.1 1103.0 1360.5 1104.0 1353.8 1105.0 1359.4 1106.0 1368.2 1107.0 1352.6 1108.0 1355.4 1109.0 1362.3 1110.0 1372.3 1111.0 1350.9 1112.0 1379.2 1113.0 1368.6 1114.0 1353.9 1115.0 1366.2 1116.0 1372.2 1117.0 1379.7 1118.0 1377.9 1119.0 1383.3 1120.0 1373.9 1121.0 1386.5 1122.0 1355.7 1123.0 1396.1 1124.0 1387.9 1125.0 1405.7 1126.0 1383.7 1127.0 1384.7 1128.0 1389.7 1129.0 1395.3 1130.0 1390.7 1131.0 1392.9 1132.0 1388.4 1133.0 1390.7 1134.0 1395.1 1135.0 1392.1 1136.0 1392.8 1137.0 1388.5 1138.0 1402.5 1139.0 1411.3 1140.0 1405.4 1141.0 1421.0 1142.0 1390.4 1143.0 1406.4 1144.0 1403.8 1145.0 1418.7 1146.0 1404.9 1147.0 1403.2 1148.0 1427.8 1149.0 1397.9 1150.0 1417.7 1151.0 1423.7 1152.0 1409.7 1153.0 1403.6 1154.0 1411.5 1155.0 1408.3 1156.0 1407.0 1157.0 1418.3 1158.0 1416.4 1159.0 1448.0 1160.0 1431.0 1161.0 1418.5 1162.0 1416.8 1163.0 1416.2 1164.0 1403.4 1165.0 1390.8 1166.0 1382.9 1167.0 1386.7 1168.0 1382.6 1169.0 1385.5 1170.0 1393.8 1171.0 1394.0 1172.0 1407.7 1173.0 1401.0 1174.0 1411.0 1175.0 1412.1 1176.0 1439.9 1177.0 1406.7 1178.0 1421.5 1179.0 1415.8 1180.0 1418.6 1181.0 1414.0 1182.0 1419.8 1183.0 1441.5 1184.0 1444.7 1185.0 1423.8 1186.0 1418.6 1187.0 1426.9 1188.0 1449.3 1189.0 1432.4 1190.0 1411.9 1191.0 1443.1 1192.0 1433.6 1193.0 1441.6 1194.0 1439.7 1195.0 1422.3 1196.0 1446.0 1197.0 1441.9 1198.0 1427.3 1199.0 1410.0 1200.0 1420.5 1201.0 1419.9 1202.0 1438.0 1203.0 1424.4 1204.0 1425.8 1205.0 1431.5 1206.0 1428.1 1207.0 1438.9 1208.0 1440.6 1209.0 1449.6 1210.0 1429.5 1211.0 1447.6 1212.0 1442.2 1213.0 1466.9 1214.0 1459.9 1215.0 1439.9 1216.0 1452.9 1217.0 1423.8 1218.0 1429.9 1219.0 1436.9 1220.0 1441.4 1221.0 1426.1 1222.0 1436.6 1223.0 1447.9 1224.0 1417.1 1225.0 1418.3 1226.0 1411.0 1227.0 1441.1 1228.0 1416.6 1229.0 1422.1 1230.0 1415.2 1231.0 1421.6 1232.0 1417.2 1233.0 1420.6 1234.0 1418.4 1235.0 1430.9 1236.0 1402.2 1237.0 1410.7 1238.0 1404.2 1239.0 1391.5 1240.0 1402.6 1241.0 1402.9 1242.0 1381.8 1243.0 1390.7 1244.0 1380.7 1245.0 1379.7 1246.0 1374.1 1247.0 1384.8 1248.0 1390.1 1249.0 1396.6 1250.0 1411.5 1251.0 1413.8 1252.0 1427.8 1253.0 1424.9 1254.0 1426.1 1255.0 1443.9 1256.0 1453.4 1257.0 1458.9 1258.0 1457.0 1259.0 1452.1 1260.0 1464.0 1261.0 1464.2 1262.0 1456.8 1263.0 1476.0 1264.0 1473.0 1265.0 1465.4 1266.0 1475.6 1267.0 1486.7 1268.0 1497.7 1269.0 1464.6 1270.0 1481.2 1271.0 1492.3 1272.0 1500.3 1273.0 1493.9 1274.0 1480.9 1275.0 1488.1 1276.0 1494.5 1277.0 1488.3 1278.0 1487.1 1279.0 1486.5 1280.0 1528.3 1281.0 1503.7 1282.0 1502.6 1283.0 1514.2 1284.0 1509.3 1285.0 1509.0 1286.0 1514.8 1287.0 1506.4 1288.0 1512.1 1289.0 1527.9 1290.0 1527.0 1291.0 1511.5 1292.0 1541.5 1293.0 1525.1 1294.0 1516.1 1295.0 1543.8 1296.0 1546.5 1297.0 1545.8 1298.0 1534.3 1299.0 1558.3 1300.0 1551.4 1301.0 1549.5 1302.0 1547.9 1303.0 1548.4 1304.0 1560.2 1305.0 1541.7 1306.0 1545.0 1307.0 1546.6 1308.0 1545.5 1309.0 1541.5 1310.0 1543.9 1311.0 1544.1 1312.0 1539.4 1313.0 1547.5 1314.0 1559.1 1315.0 1555.5 1316.0 1565.7 1317.0 1559.8 1318.0 1548.4 1319.0 1561.9 1320.0 1538.5 1321.0 1570.1 1322.0 1553.2 1323.0 1574.8 1324.0 1543.3 1325.0 1547.9 1326.0 1553.9 1327.0 1556.4 1328.0 1543.8 1329.0 1549.1 1330.0 1569.8 1331.0 1558.7 1332.0 1578.9 1333.0 1589.2 1334.0 1558.2 1335.0 1570.6 1336.0 1593.2 1337.0 1586.2 1338.0 1560.4 1339.0 1578.4 1340.0 1591.7 1341.0 1551.2 1342.0 1577.5 1343.0 1584.8 1344.0 1568.2 1345.0 1566.6 1346.0 1581.5 1347.0 1557.2 1348.0 1580.6 1349.0 1588.4 1350.0 1577.2 1351.0 1560.5 1352.0 1594.5 1353.0 1578.1 1354.0 1584.9 1355.0 1570.1 1356.0 1578.8 1357.0 1591.7 1358.0 1564.4 1359.0 1566.7 1360.0 1559.1 1361.0 1586.1 1362.0 1586.6 1363.0 1573.3 1364.0 1586.7 1365.0 1584.3 1366.0 1605.6 1367.0 1573.5 1368.0 1589.8 1369.0 1583.4 1370.0 1608.1 1371.0 1594.0 1372.0 1576.7 1373.0 1593.6 1374.0 1586.6 1375.0 1577.2 1376.0 1590.3 1377.0 1586.3 1378.0 1571.3 1379.0 1577.9 1380.0 1594.3 1381.0 1592.6 1382.0 1581.0 1383.0 1579.6 1384.0 1587.5 1385.0 1584.8 1386.0 1574.8 1387.0 1595.6 1388.0 1581.6 1389.0 1606.3 1390.0 1597.3 1391.0 1598.6 1392.0 1587.4 1393.0 1592.2 1394.0 1583.8 1395.0 1585.3 1396.0 1578.2 1397.0 1603.7 1398.0 1576.6 1399.0 1606.3 1400.0 1596.6 1401.0 1579.8 1402.0 1604.1 1403.0 1595.8 1404.0 1584.3 1405.0 1596.7 1406.0 1591.9 1407.0 1588.6 1408.0 1597.1 1409.0 1601.5 1410.0 1596.3 1411.0 1600.4 1412.0 1610.1 1413.0 1601.5 1414.0 1599.8 1415.0 1591.0 1416.0 1604.6 1417.0 1600.9 1418.0 1603.9 1419.0 1615.1 1420.0 1616.2 1421.0 1607.9 1422.0 1601.8 1423.0 1609.6 1424.0 1611.8 1425.0 1611.1 1426.0 1593.6 1427.0 1611.8 1428.0 1597.6 1429.0 1611.0 1430.0 1611.4 1431.0 1608.2 1432.0 1618.6 1433.0 1605.6 1434.0 1608.5 1435.0 1595.7 1436.0 1604.4 1437.0 1604.2 1438.0 1608.7 1439.0 1608.1 1440.0 1587.1 1441.0 1622.1 1442.0 1622.5 1443.0 1594.5 1444.0 1619.4 1445.0 1627.3 1446.0 1624.3 1447.0 1624.0 1448.0 1614.5 1449.0 1610.9 1450.0 1636.1 1451.0 1620.5 1452.0 1633.2 1453.0 1615.3 1454.0 1625.7 1455.0 1624.6 1456.0 1624.4 1457.0 1603.4 1458.0 1641.0 1459.0 1619.4 1460.0 1612.9 1461.0 1619.4" stroke="#00f"/>
</g>
<g fill="none" stroke="#000" stroke-width="8" stroke-linecap="round">
<path d="M1466 445 L1491 445"/>
<path d="M1491 445 L1491 1390" stroke-dasharray="14 16"/>
<path d="M1491 1390 L1466 1390"/>
<path d="M1470 1405 L1494 1405"/>
<path d="M1494 1405 L1494 1626" stroke-dasharray="14 16"/>
<path d="M1494 1626 L1470 1626"/>
</g>
<g fill="none" stroke="#000" stroke-width="11" stroke-linecap="round">
<path d="M992.5 1927.5 L992.5 2074"/>
<path d="M979 1927.5 L1007 1927.5"/>
<path d="M979 2074 L1007 2074"/>
</g>
<g font-family="'Liberation Sans', Arial, sans-serif" fill="#000">
<text x="223" y="2551" font-size="68" text-anchor="middle">600</text><text x="515" y="2551" font-size="68" text-anchor="middle">900</text><text x="807" y="2551" font-size="68" text-anchor="middle">1200</text><text x="1099" y="2551" font-size="68" text-anchor="middle">1500</text><text x="1390.5" y="2551" font-size="68" text-anchor="middle">1800</text>
<text x="504" y="2639" font-size="76"><tspan font-weight="bold">Raman shift</tspan> [cm<tspan font-size="45" dy="-38">-1</tspan><tspan dy="38">]</tspan></text>
<text transform="translate(76 1507) rotate(-90)" font-size="77"><tspan font-weight="bold">Intensity</tspan> [a.u.]</text>
<text x="1024" y="2021" font-size="67">1k cts</text>
<g font-weight="bold" font-size="84">
<text x="472" y="443.3">(d)</text>
<text x="467" y="733.3">(c)</text>
<text x="467" y="958.3">(b)</text>
<text x="467" y="1229.3">(ii)</text>
<text x="467" y="1519.3" fill="#f00">(i)</text>
<text x="466" y="1750.3" fill="#00f">(a)</text>
</g>
</g>
<g font-family="'Liberation Serif', 'Times New Roman', serif" font-style="italic" font-weight="bold" font-size="78.3">
<text transform="translate(1573 1224) rotate(-90)">formaldehyde excess</text>
<text transform="translate(1575 1842) rotate(-90)" fill="#00f">melamine excess</text>
</g>
</svg></body></html>
